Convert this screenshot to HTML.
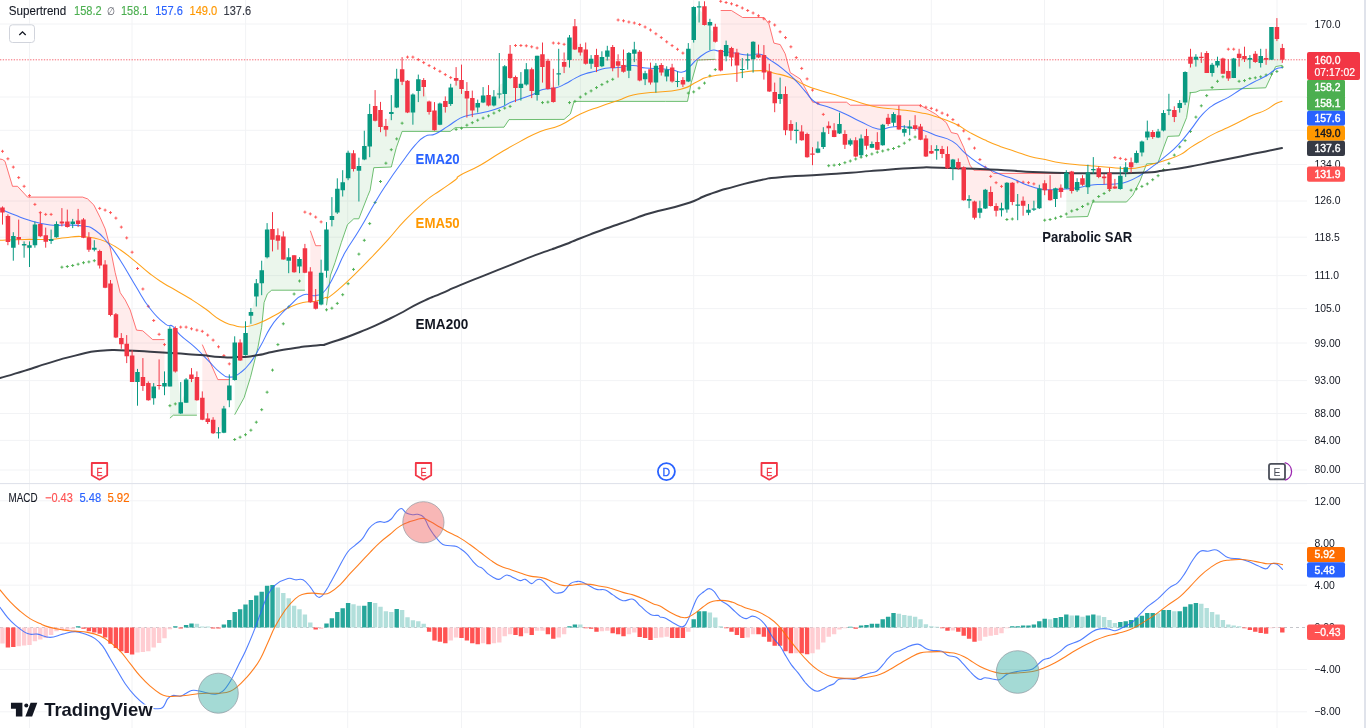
<!DOCTYPE html>
<html lang="en"><head><meta charset="utf-8"><title>Chart</title>
<style>html,body{margin:0;padding:0;background:#fff}body{width:1366px;height:728px;overflow:hidden;position:relative;font-family:"Liberation Sans",sans-serif}</style></head>
<body>
<svg width="1366" height="728" viewBox="0 0 1366 728" style="position:absolute;left:0;top:0;font-family:'Liberation Sans',sans-serif">
<defs><clipPath id="cm"><rect x="0" y="0" width="1307" height="483"/></clipPath><clipPath id="cd"><rect x="0" y="484" width="1307" height="244"/></clipPath></defs>
<path d="M29.5 0V728M132 0V728M245.6 0V728M347.7 0V728M461.5 0V728M580.4 0V728M693.7 0V728M812.5 0V728M931.3 0V728M1044.5 0V728M1163.5 0V728M1277 0V728M0 24H1307M0 97H1307M0 130.3H1307M0 164.5H1307M0 201H1307M0 237.2H1307M0 275.6H1307M0 308.6H1307M0 343H1307M0 380.6H1307M0 413.5H1307M0 440.4H1307M0 470H1307M0 500.8H1307M0 543.1H1307M0 585.2H1307M0 669.5H1307M0 711.8H1307" stroke="#f2f3f5" stroke-width="1" fill="none"/>
<path d="M0 627.5H1307" stroke="#9598a1" stroke-width="0.8" stroke-dasharray="3 3" opacity="0.7"/>
<g clip-path="url(#cm)">
<polygon points="-3,158.5 2.5,159.5 5,161.3 12.5,186.3 17.5,186.3 27.5,197.1 82.6,197.1 87.6,198.9 93.9,205.1 100.2,217.6 105.2,228.9 110.2,247.7 115.2,272.7 120.2,292.7 125.2,300 130.2,310 136.5,330.1 142.7,330.8 152.7,339.6 164.5,339.6 164.5,384 159.1,380.1 153.7,393.1 148.3,391.3 142.9,377.9 137.5,382.1 132.1,367.4 126.7,349.6 121.3,341.1 115.9,325.7 110.5,298.7 105.1,275.2 99.7,258.6 94.3,247.2 88.9,242.7 83.5,228.3 78.1,220.1 72.7,223.1 67.3,221.5 61.9,219.9 56.5,230 51.1,238.4 45.7,238 40.3,227.5 34.9,234.8 29.5,250.3 24.1,247.1 18.7,235.2 13.3,244.1 7.9,229.3 2.5,212.8 -3,210.8" fill="rgba(255,82,82,0.11)"/><polygon points="169.9,418.2 173.3,415.2 196.9,415.2 196.9,387.3 191.5,375.9 186.1,390.8 180.7,402.9 175.3,349.6 169.9,357" fill="rgba(76,175,80,0.11)"/><polygon points="202.3,344.6 217.8,379.6 229.3,379.6 229.3,391.8 223.9,420.1 218.5,432.8 213.1,426 207.7,419.4 202.3,407.2" fill="rgba(255,82,82,0.11)"/><polygon points="234.7,414.7 244.1,397.7 250.4,377.6 257.9,347.6 261.6,327.6 264.1,302.5 267.4,293.8 271.7,290.2 304.9,290.2 304.9,259.5 299.5,264 294.1,263.8 288.7,259.8 283.3,246.7 277.9,238.5 272.5,233 267.1,242 261.7,277.3 256.3,291.3 250.9,314.9 245.5,341.3 240.1,350.8 234.7,359.9" fill="rgba(76,175,80,0.11)"/><polygon points="310.3,230.7 315.7,245.7 321.1,245.7 321.1,285.5 315.7,302.2 310.3,285.9" fill="rgba(255,82,82,0.11)"/><polygon points="326.5,305.3 330.5,275.2 335,262.6 341.3,242.6 347.5,224.6 353.8,218.8 358.8,218.8 367.6,196.3 370.1,190.3 373.8,167.7 391.3,167 396.3,147.7 402.1,131.4 450.2,131.4 455.2,127.7 504,127.2 509,119.6 564.1,119.4 570.4,113.9 574.1,101.4 665.5,101.4 687.5,101.4 691.3,82.6 697.6,60.1 715.3,59.3 715.3,33.7 709.9,29.1 704.5,14.5 699.1,9.4 693.7,24 688.3,63.8 682.9,82.2 677.5,80.4 672.1,73.9 666.7,73.4 661.3,69.1 655.9,76 650.5,74.8 645.1,77.1 639.7,65.9 634.3,51.8 628.9,63.5 623.5,64.8 618.1,64.8 612.7,57.9 607.3,53.4 601.9,60.4 596.5,60.7 591.1,61.6 585.7,55.1 580.3,49.7 574.9,36.2 569.5,50 564.1,63.6 558.7,70.6 553.3,90.3 547.9,74.5 542.5,61.6 537.1,76.8 531.7,81.5 526.3,75.6 520.9,86.2 515.5,85.7 510.1,63.9 504.7,82.6 499.3,84.8 493.9,99.6 488.5,98.1 483.1,97.1 477.7,105.8 472.3,104.1 466.9,97.2 461.5,81.8 456.1,77.9 450.7,95.3 445.3,104.2 439.9,114 434.5,118.4 429.1,107.2 423.7,85.3 418.3,86.7 412.9,106.3 407.5,96.7 402.1,73.3 396.7,90.9 391.3,110.3 385.9,127.7 380.5,117.8 375.1,109.5 369.7,130.4 364.3,149.1 358.9,174 353.5,161 348.1,165.5 342.7,184.8 337.3,198.4 331.9,214.9 326.5,250" fill="rgba(76,175,80,0.11)"/><polygon points="720.7,10.5 731.4,10.5 742.6,17.5 763.9,17.5 768.9,23.8 773.9,43.1 780.2,44.6 785.2,53.8 790.2,72.6 800.2,78.9 812.7,102.2 846.5,102.2 850.3,105.2 920.4,105.2 925.4,108.2 935.4,113.9 946.3,122.6 951.3,132.6 957.5,133.9 963.8,147.6 970,165.2 973.8,170.2 990.1,170.2 993.8,173.4 1060.9,173.4 1060.9,190.4 1055.5,195.5 1050.1,191.4 1044.7,187.2 1039.3,197.6 1033.9,207.5 1028.5,210.4 1023.1,204.7 1017.7,206.1 1012.3,193 1006.9,196.8 1001.5,209.4 996.1,209.1 990.7,197.7 985.3,199 979.9,210 974.5,209.8 969.1,200.8 963.7,183.6 958.3,164.5 952.9,166.7 947.5,159.3 942.1,151.7 936.7,151.2 931.3,150.9 925.9,146.8 920.5,132.6 915.1,125 909.7,127.6 904.3,130.8 898.9,120 893.5,118.8 888.1,120.4 882.7,134.9 877.3,143.5 871.9,145.3 866.5,140 861.1,146.3 855.7,147.8 850.3,142.3 844.9,139.5 839.5,126 834.1,131.9 828.7,127.3 823.3,138.8 817.9,149 812.5,155.2 807.1,145.4 801.7,134.4 796.3,131.6 790.9,128.8 785.5,111.4 780.1,93.6 774.7,97.5 769.3,79.6 763.9,63.1 758.5,53.7 753.1,53.8 747.7,60.7 742.3,68.8 736.9,62.2 731.5,54.7 726.1,50.8 720.7,60.4" fill="rgba(255,82,82,0.11)"/><polygon points="1066.3,217.2 1087.7,216.5 1092.7,202 1126.5,202 1132.8,195.2 1140.3,180.2 1146.6,163.9 1157.8,163.2 1167.8,136.4 1179.1,135.9 1186.6,117.6 1190.4,92.5 1189.7,92.8 1196,92.1 1200.3,90.3 1265.7,87.8 1275.6,66.6 1282.3,65.4 1282.3,53.6 1276.9,31.3 1271.5,43.4 1266.1,57.8 1260.7,58.8 1255.3,57.4 1249.9,60.3 1244.5,56 1239.1,56.8 1233.7,68.2 1228.3,72.4 1222.9,65.9 1217.5,62.7 1212.1,69.3 1206.7,62.4 1201.3,57.4 1195.9,59.3 1190.5,59.2 1185.1,87.7 1179.7,105.9 1174.3,113.9 1168.9,107.3 1163.5,121.3 1158.1,134 1152.7,134.4 1147.3,132.4 1141.9,147.8 1136.5,157.4 1131.1,164.9 1125.7,169.5 1120.3,180.2 1114.9,185.7 1109.5,180 1104.1,178.2 1098.7,172.4 1093.3,167.5 1087.9,179.5 1082.5,181 1077.1,185.6 1071.7,181.7 1066.3,180.1" fill="rgba(76,175,80,0.11)"/>
<polyline points="-3,158.5 2.5,159.5 5,161.3 12.5,186.3 17.5,186.3 27.5,197.1 82.6,197.1 87.6,198.9 93.9,205.1 100.2,217.6 105.2,228.9 110.2,247.7 115.2,272.7 120.2,292.7 125.2,300 130.2,310 136.5,330.1 142.7,330.8 152.7,339.6 164.5,339.6" fill="none" stroke="#ff5252" stroke-width="1" stroke-opacity="0.8" stroke-linejoin="round"/>
<polyline points="169.9,418.2 173.3,415.2 196.9,415.2" fill="none" stroke="#4caf50" stroke-width="1" stroke-opacity="0.8" stroke-linejoin="round"/>
<polyline points="202.3,344.6 217.8,379.6 229.3,379.6" fill="none" stroke="#ff5252" stroke-width="1" stroke-opacity="0.8" stroke-linejoin="round"/>
<polyline points="234.7,414.7 244.1,397.7 250.4,377.6 257.9,347.6 261.6,327.6 264.1,302.5 267.4,293.8 271.7,290.2 304.9,290.2" fill="none" stroke="#4caf50" stroke-width="1" stroke-opacity="0.8" stroke-linejoin="round"/>
<polyline points="310.3,230.7 315.7,245.7 321.1,245.7" fill="none" stroke="#ff5252" stroke-width="1" stroke-opacity="0.8" stroke-linejoin="round"/>
<polyline points="326.5,305.3 330.5,275.2 335,262.6 341.3,242.6 347.5,224.6 353.8,218.8 358.8,218.8 367.6,196.3 370.1,190.3 373.8,167.7 391.3,167 396.3,147.7 402.1,131.4 450.2,131.4 455.2,127.7 504,127.2 509,119.6 564.1,119.4 570.4,113.9 574.1,101.4 665.5,101.4 687.5,101.4 691.3,82.6 697.6,60.1 715.3,59.3" fill="none" stroke="#4caf50" stroke-width="1" stroke-opacity="0.8" stroke-linejoin="round"/>
<polyline points="720.7,10.5 731.4,10.5 742.6,17.5 763.9,17.5 768.9,23.8 773.9,43.1 780.2,44.6 785.2,53.8 790.2,72.6 800.2,78.9 812.7,102.2 846.5,102.2 850.3,105.2 920.4,105.2 925.4,108.2 935.4,113.9 946.3,122.6 951.3,132.6 957.5,133.9 963.8,147.6 970,165.2 973.8,170.2 990.1,170.2 993.8,173.4 1060.9,173.4" fill="none" stroke="#ff5252" stroke-width="1" stroke-opacity="0.8" stroke-linejoin="round"/>
<polyline points="1066.3,217.2 1087.7,216.5 1092.7,202 1126.5,202 1132.8,195.2 1140.3,180.2 1146.6,163.9 1157.8,163.2 1167.8,136.4 1179.1,135.9 1186.6,117.6 1190.4,92.5 1189.7,92.8 1196,92.1 1200.3,90.3 1265.7,87.8 1275.6,66.6 1282.3,65.4" fill="none" stroke="#4caf50" stroke-width="1" stroke-opacity="0.8" stroke-linejoin="round"/>
<path d="M1 151.3h3M2.5 149.8v3M6.4 158.8h3M7.9 157.3v3M11.8 167.1h3M13.3 165.6v3M17.2 177.6h3M18.7 176.1v3M22.6 186.3h3M24.1 184.8v3M28 195.6h3M29.5 194.1v3M33.4 204.4h3M34.9 202.9v3M38.8 212.6h3M40.3 211.1v3M44.2 214.4h3M45.7 212.9v3M49.6 214.4h3M51.1 212.9v3" stroke="#ff5252" stroke-width="0.95" fill="none"/>
<path d="M60.4 267.2h3M61.9 265.7v3M65.8 266.5h3M67.3 265v3M71.2 265.5h3M72.7 264v3M76.6 264.2h3M78.1 262.7v3M82 262.7h3M83.5 261.2v3M87.4 261.9h3M88.9 260.4v3M92.8 260.7h3M94.3 259.2v3" stroke="#4caf50" stroke-width="0.95" fill="none"/>
<path d="M98.2 208.4h3M99.7 206.9v3M103.6 210.1h3M105.1 208.6v3M109 212.6h3M110.5 211.1v3M114.4 218.1h3M115.9 216.6v3M119.8 227.1h3M121.3 225.6v3M125.2 237.9h3M126.7 236.4v3M130.6 252.2h3M132.1 250.7v3M136 268.5h3M137.5 267v3M141.4 289h3M142.9 287.5v3M146.8 306.3h3M148.3 304.8v3M152.2 320.5h3M153.7 319v3M157.6 334.3h3M159.1 332.8v3M163 344.6h3M164.5 343.1v3" stroke="#ff5252" stroke-width="0.95" fill="none"/>
<path d="M168.4 405.7h3M169.9 404.2v3M173.8 403.9h3M175.3 402.4v3" stroke="#4caf50" stroke-width="0.95" fill="none"/>
<path d="M179.2 327.1h3M180.7 325.6v3M184.6 327.1h3M186.1 325.6v3M190 328.8h3M191.5 327.3v3M195.4 330.1h3M196.9 328.6v3M200.8 331.3h3M202.3 329.8v3M206.2 335.1h3M207.7 333.6v3M211.6 340.1h3M213.1 338.6v3M217 346.8h3M218.5 345.3v3M222.4 355.6h3M223.9 354.1v3M227.8 363.9h3M229.3 362.4v3" stroke="#ff5252" stroke-width="0.95" fill="none"/>
<path d="M233.2 439.5h3M234.7 438v3M238.6 437.2h3M240.1 435.7v3M244 434.7h3M245.5 433.2v3M249.4 430.2h3M250.9 428.7v3M254.8 422.2h3M256.3 420.7v3M260.2 409.7h3M261.7 408.2v3M265.6 392.2h3M267.1 390.7v3M271 370.1h3M272.5 368.6v3M276.4 344.6h3M277.9 343.1v3M281.8 323.8h3M283.3 322.3v3M287.2 307h3M288.7 305.5v3M292.6 294h3M294.1 292.5v3M298 281h3M299.5 279.5v3" stroke="#4caf50" stroke-width="0.95" fill="none"/>
<path d="M303.4 212.1h3M304.9 210.6v3M308.8 213.9h3M310.3 212.4v3M314.2 217.1h3M315.7 215.6v3M319.6 221.9h3M321.1 220.4v3" stroke="#ff5252" stroke-width="0.95" fill="none"/>
<path d="M325 309.8h3M326.5 308.3v3M330.4 308.2h3M331.9 306.7v3M335.8 303.4h3M337.3 301.9v3M341.2 294.7h3M342.7 293.2v3M346.6 283.7h3M348.1 282.2v3M352 269.4h3M353.5 267.9v3M357.4 254.1h3M358.9 252.6v3M362.8 240.3h3M364.3 238.8v3M368.2 223.6h3M369.7 222.1v3M373.6 202.5h3M375.1 201v3M379 181.5h3M380.5 180v3M384.4 163.2h3M385.9 161.7v3M389.8 149.7h3M391.3 148.2v3M395.2 138.9h3M396.7 137.4v3M400.6 123.2h3M402.1 121.7v3" stroke="#4caf50" stroke-width="0.95" fill="none"/>
<path d="M406 57.1h3M407.5 55.6v3M411.4 57.1h3M412.9 55.6v3M416.8 59.6h3M418.3 58.1v3M422.2 62.6h3M423.7 61.1v3M427.6 65.6h3M429.1 64.1v3M433 68.3h3M434.5 66.8v3M438.4 71.3h3M439.9 69.8v3M443.8 74.6h3M445.3 73.1v3M449.2 77.6h3M450.7 76.1v3" stroke="#ff5252" stroke-width="0.95" fill="none"/>
<path d="M454.6 129.4h3M456.1 127.9v3M460 128.2h3M461.5 126.7v3M465.4 125.2h3M466.9 123.7v3M470.8 122.7h3M472.3 121.2v3M476.2 120.2h3M477.7 118.7v3M481.6 118.1h3M483.1 116.6v3M487 115.9h3M488.5 114.4v3M492.4 113.1h3M493.9 111.6v3M497.8 110.6h3M499.3 109.1v3M503.2 108.1h3M504.7 106.6v3M508.6 106.4h3M510.1 104.9v3" stroke="#4caf50" stroke-width="0.95" fill="none"/>
<path d="M514 45.5h3M515.5 44v3M519.4 45.5h3M520.9 44v3M524.8 45.8h3M526.3 44.3v3M530.2 46.8h3M531.7 45.3v3M535.6 48h3M537.1 46.5v3" stroke="#ff5252" stroke-width="0.95" fill="none"/>
<path d="M541 102.6h3M542.5 101.1v3M546.4 102.1h3M547.9 100.6v3" stroke="#4caf50" stroke-width="0.95" fill="none"/>
<path d="M551.8 43h3M553.3 41.5v3M557.2 43.3h3M558.7 41.8v3M562.6 44.3h3M564.1 42.8v3" stroke="#ff5252" stroke-width="0.95" fill="none"/>
<path d="M568 102.6h3M569.5 101.1v3M573.4 101.4h3M574.9 99.9v3M578.8 97.1h3M580.3 95.6v3M584.2 93.9h3M585.7 92.4v3M589.6 90.9h3M591.1 89.4v3M595 87.6h3M596.5 86.1v3M600.4 84.6h3M601.9 83.1v3M605.8 81.8h3M607.3 80.3v3M611.2 79.3h3M612.7 77.8v3" stroke="#4caf50" stroke-width="0.95" fill="none"/>
<path d="M616.6 20h3M618.1 18.5v3M622 20.8h3M623.5 19.3v3M627.4 22h3M628.9 20.5v3M632.8 23h3M634.3 21.5v3M638.2 24.5h3M639.7 23v3M643.6 27h3M645.1 25.5v3M649 30h3M650.5 28.5v3M654.4 33.8h3M655.9 32.3v3M659.8 37.6h3M661.3 36.1v3M665.2 41.8h3M666.7 40.3v3M670.6 45.6h3M672.1 44.1v3M676 49.3h3M677.5 47.8v3M681.4 53.1h3M682.9 51.6v3" stroke="#ff5252" stroke-width="0.95" fill="none"/>
<path d="M686.8 93.1h3M688.3 91.6v3M692.2 91.9h3M693.7 90.4v3M697.6 88.1h3M699.1 86.6v3M703 83.1h3M704.5 81.6v3M708.4 75.9h3M709.9 74.4v3M713.8 69.6h3M715.3 68.1v3" stroke="#4caf50" stroke-width="0.95" fill="none"/>
<path d="M719.2 1.3h3M720.7 -0.2v3M724.6 2.5h3M726.1 1v3M730 3.8h3M731.5 2.3v3M735.4 5.5h3M736.9 4v3M740.8 8h3M742.3 6.5v3M746.2 10.5h3M747.7 9v3M751.6 13h3M753.1 11.5v3M757 15.8h3M758.5 14.3v3M762.4 18.8h3M763.9 17.3v3M767.8 21.8h3M769.3 20.3v3M773.2 25h3M774.7 23.5v3M778.6 31.8h3M780.1 30.3v3M784 37.6h3M785.5 36.1v3M789.4 46.8h3M790.9 45.3v3M794.8 57.6h3M796.3 56.1v3M800.2 68.4h3M801.7 66.9v3M805.6 78.9h3M807.1 77.4v3M811 90.1h3M812.5 88.6v3M816.4 103.4h3M817.9 101.9v3M821.8 114.4h3M823.3 112.9v3" stroke="#ff5252" stroke-width="0.95" fill="none"/>
<path d="M827.2 165.7h3M828.7 164.2v3M832.6 165.2h3M834.1 163.7v3M838 164.5h3M839.5 163v3M843.4 162.7h3M844.9 161.2v3M848.8 161h3M850.3 159.5v3M854.2 159h3M855.7 157.5v3M859.6 157.2h3M861.1 155.7v3M865 155.7h3M866.5 154.2v3M870.4 154h3M871.9 152.5v3M875.8 152.2h3M877.3 150.7v3M881.2 151h3M882.7 149.5v3M886.6 149.7h3M888.1 148.2v3M892 148.5h3M893.5 147v3M897.4 146.5h3M898.9 145v3M902.8 143.2h3M904.3 141.7v3M908.2 139.7h3M909.7 138.2v3M913.6 137h3M915.1 135.5v3" stroke="#4caf50" stroke-width="0.95" fill="none"/>
<path d="M919 105.7h3M920.5 104.2v3M924.4 107.2h3M925.9 105.7v3M929.8 108.4h3M931.3 106.9v3M935.2 110.2h3M936.7 108.7v3M940.6 113.1h3M942.1 111.6v3M946 115.1h3M947.5 113.6v3M951.4 119.6h3M952.9 118.1v3M956.8 125.1h3M958.3 123.6v3M962.2 130.9h3M963.7 129.4v3M967.6 138.9h3M969.1 137.4v3M973 148.1h3M974.5 146.6v3M978.4 159.6h3M979.9 158.1v3M983.8 167.2h3M985.3 165.7v3M989.2 176.4h3M990.7 174.9v3M994.6 182.7h3M996.1 181.2v3M1000 186.4h3M1001.5 184.9v3" stroke="#ff5252" stroke-width="0.95" fill="none"/>
<path d="M1005.4 219.5h3M1006.9 218v3M1010.8 219h3M1012.3 217.5v3" stroke="#4caf50" stroke-width="0.95" fill="none"/>
<path d="M1016.2 181.9h3M1017.7 180.4v3M1021.6 182.2h3M1023.1 180.7v3M1027 182.7h3M1028.5 181.2v3M1032.4 183.9h3M1033.9 182.4v3" stroke="#ff5252" stroke-width="0.95" fill="none"/>
<path d="M1043.2 220.2h3M1044.7 218.7v3M1048.6 219.5h3M1050.1 218v3M1054 218.2h3M1055.5 216.7v3M1059.4 216.5h3M1060.9 215v3M1064.8 214h3M1066.3 212.5v3M1070.2 211h3M1071.7 209.5v3M1075.6 209.5h3M1077.1 208v3M1081 206.5h3M1082.5 205v3M1086.4 204h3M1087.9 202.5v3M1091.8 201h3M1093.3 199.5v3M1097.2 196.5h3M1098.7 195v3M1102.6 193.5h3M1104.1 192v3M1108 190.2h3M1109.5 188.7v3" stroke="#4caf50" stroke-width="0.95" fill="none"/>
<path d="M1113.4 157.6h3M1114.9 156.1v3M1118.8 158.4h3M1120.3 156.9v3M1124.2 159.4h3M1125.7 157.9v3" stroke="#ff5252" stroke-width="0.95" fill="none"/>
<path d="M1129.6 190.2h3M1131.1 188.7v3M1135 188.9h3M1136.5 187.4v3M1140.4 186.4h3M1141.9 184.9v3M1145.8 183.9h3M1147.3 182.4v3M1151.2 179.7h3M1152.7 178.2v3M1156.6 175.7h3M1158.1 174.2v3M1162 169.7h3M1163.5 168.2v3M1167.4 163.4h3M1168.9 161.9v3M1172.8 155.1h3M1174.3 153.6v3M1178.2 146.9h3M1179.7 145.4v3M1183.6 140.6h3M1185.1 139.1v3M1189 131.4h3M1190.5 129.9v3M1194.4 117.1h3M1195.9 115.6v3M1199.8 105.8h3M1201.3 104.3v3M1205.2 95.6h3M1206.7 94.1v3M1210.6 87.5h3M1212.1 86v3M1216 81.3h3M1217.5 79.8v3M1221.4 76.8h3M1222.9 75.3v3" stroke="#4caf50" stroke-width="0.95" fill="none"/>
<path d="M1226.8 49.2h3M1228.3 47.7v3M1232.2 49.2h3M1233.7 47.7v3" stroke="#ff5252" stroke-width="0.95" fill="none"/>
<path d="M1237.6 81.3h3M1239.1 79.8v3M1243 80.6h3M1244.5 79.1v3M1248.4 78.5h3M1249.9 77v3M1253.8 77.8h3M1255.3 76.3v3M1259.2 76.8h3M1260.7 75.3v3M1264.6 75h3M1266.1 73.5v3M1270 74.1h3M1271.5 72.6v3M1275.4 71.4h3M1276.9 69.9v3M1280.8 67h3M1282.3 65.5v3" stroke="#4caf50" stroke-width="0.95" fill="none"/>
<path d="M0 240.2C6.7 240 11.7 239.6 25 239.4C38.4 239.2 39.4 239.9 50.1 239.4C60.8 238.9 57.1 238.5 65.1 237.7C73.1 236.9 72.1 236.3 80.1 236.4C88.1 236.5 87.8 236.5 95.1 238.2C102.5 239.8 101 239.6 107.7 242.7C114.3 245.7 112.8 244.7 120.2 249.7C127.5 254.7 127.2 255 135.2 261.4C143.2 267.9 142.9 268.3 150.2 274C157.6 279.6 156.1 278.5 162.7 282.7C169.4 287 167.9 285.7 175.3 290C182.6 294.3 182.3 293.8 190.3 298.8C198.3 303.8 197.3 303.1 205.3 308.8C213.3 314.5 213 315.7 220.3 320C227.7 324.4 226.2 323.2 232.8 325.1C239.5 326.9 238 327.5 245.4 326.8C252.7 326.1 252.4 325.7 260.4 322.5C268.4 319.4 268.1 318.9 275.4 315C282.8 311.2 280.6 311.4 287.9 308C295.3 304.7 295.6 304.3 303 302.5C310.3 300.7 309.5 302.6 315.5 301.3C321.5 299.9 321.6 298.8 325.5 297.5C329.4 296.2 324.1 300.7 330 296.4C335.9 292.1 337.5 290.7 347.5 281.4C357.5 272.1 356.9 272.4 367.6 261.4C378.2 250.4 377.6 251.1 387.6 240.1C397.6 229.1 395.1 230.4 405.1 220.1C415.1 209.7 415.8 209.2 425.1 201.3C434.5 193.4 432.2 196.2 440.2 190.5C448.2 184.8 449.8 184.1 455.2 180C460.5 175.9 453.5 179.2 460.2 175.2C466.9 171.3 469.5 171.2 480.2 165.2C490.9 159.2 489.6 159 500.3 152.7C510.9 146.4 509.6 147.1 520.3 141.4C531 135.8 529.6 135.8 540.3 131.4C551 127.1 549.7 129.8 560.3 125.2C571 120.5 569.7 118.9 580.4 113.9C591.1 108.9 590.4 109.9 600.4 106.4C610.4 102.8 609.3 103.6 617.9 100.6C626.6 97.6 624.3 97.2 633 95.1C641.6 93 637.9 94.1 650.5 92.6C663 91.1 667.5 92.4 680 89.4C692.6 86.4 689.5 84.8 697.6 81.4C705.6 77.9 700.1 78.5 710.1 76.4C720.1 74.2 721.8 74.9 735.1 73.4C748.5 71.8 749.5 70.6 760.2 70.6C770.8 70.6 767.2 71.5 775.2 73.4C783.2 75.2 782.2 74.5 790.2 77.6C798.2 80.8 797.2 81.7 805.2 85.1C813.2 88.6 810.9 87.6 820.2 90.6C829.6 93.6 829.6 93.2 840.3 96.4C851 99.6 850.3 99.8 860.3 102.7C870.3 105.5 867.8 105.4 877.8 107.2C887.8 109 886.5 107.9 897.9 109.4C909.2 110.9 910.4 110.8 920.4 112.7C930.4 114.5 926.2 113.4 935.4 116.4C944.6 119.4 945.8 119.5 955 123.8C964.3 128.2 962 128.3 970 132.6C978.1 136.9 977.1 136.4 985.1 140.1C993.1 143.8 992.1 143.4 1000.1 146.4C1008.1 149.4 1007.1 148.7 1015.1 151.4C1023.1 154.1 1022.1 154.2 1030.1 156.4C1038.1 158.6 1037.1 158 1045.2 159.6C1053.2 161.3 1052.2 161.4 1060.2 162.7C1068.2 163.9 1067.2 163.6 1075.2 164.4C1083.2 165.2 1082.2 165 1090.2 165.7C1098.2 166.3 1097.2 166.2 1105.2 166.9C1113.3 167.6 1112.3 167.8 1120.3 168.2C1128.3 168.5 1127.3 169.1 1135.3 168.2C1143.3 167.2 1142.3 166.8 1150.3 164.7C1158.3 162.5 1157.3 162.8 1165.3 160.2C1173.4 157.5 1173.7 158 1180.4 154.6C1187 151.3 1184.4 151.5 1190.4 147.6C1196.4 143.8 1196.2 144 1202.9 140.1C1209.6 136.2 1208.7 136.4 1215.4 133.1C1222.1 129.8 1221.3 130.7 1227.9 127.6C1234.6 124.5 1233.8 124.7 1240.5 121.3C1247.1 118 1246.3 118.1 1253 115.1C1259.6 112.1 1259.5 113.1 1265.5 110.1C1271.5 107.1 1271.1 106.2 1275.5 103.8C1279.9 101.5 1280.3 102 1282 101.3" fill="none" stroke="#ff9800" stroke-width="1.05" stroke-opacity="0.9" stroke-linejoin="round" stroke-linecap="round"/>
<path d="M0 208.9C4 210.5 7 212 15 215.1C23 218.3 20.7 218 30 220.6C39.4 223.3 40.7 223.9 50.1 225.1C59.4 226.3 56.4 224.9 65.1 225.1C73.8 225.3 74.6 224.6 82.6 225.9C90.6 227.2 88.5 225.7 95.1 230.2C101.8 234.6 101 234.7 107.7 242.7C114.3 250.7 112.8 248.8 120.2 260.2C127.5 271.5 127.2 272.3 135.2 285.2C143.2 298.2 142.2 298.5 150.2 308.8C158.2 319.1 159.2 319.1 165.2 323.8C171.3 328.5 168.8 323.3 172.8 326.3C176.8 329.3 174.3 329.4 180.3 335.1C186.3 340.7 187.9 340.9 195.3 347.6C202.6 354.3 201.1 353.4 207.8 360.1C214.5 366.8 214.3 368.1 220.3 372.6C226.3 377.2 225 377.1 230.3 377.1C235.7 377.1 235 376.5 240.4 372.6C245.7 368.8 245 369.6 250.4 362.6C255.7 355.6 255 355.7 260.4 346.3C265.7 337 265.1 335.9 270.4 327.6C275.7 319.2 275.1 321 280.4 315C285.8 309 284.4 310.4 290.4 305C296.4 299.7 296.3 297.5 303 295C309.6 292.5 309.5 296.8 315.5 295.5C321.5 294.2 320.1 296.1 325.5 290C330.8 283.9 330.3 282.7 335.5 272.7C340.7 262.7 338.5 264.3 345 252.6C351.6 240.9 352 242.2 360 228.8C368.1 215.5 367.7 214.8 375.1 202.5C382.4 190.2 380.2 193.7 387.6 182.7C394.9 171.8 395.3 171.5 402.6 161.5C410 151.4 409.1 151.9 415.1 145.2C421.1 138.5 419.8 139.4 425.1 136.4C430.5 133.4 429.1 136.6 435.2 133.9C441.2 131.3 441 130.6 447.7 126.4C454.4 122.2 454.2 121.2 460.2 118.1C466.2 115.1 463.5 116.7 470.2 115.1C476.9 113.5 477.2 114.1 485.2 112.1C493.2 110.1 493.6 110.2 500.3 107.6C506.9 105.1 504.9 105 510.3 102.6C515.6 100.3 514.3 101 520.3 98.9C526.3 96.7 526.8 97.1 532.8 94.6C538.8 92.1 536.8 91.3 542.8 89.6C548.8 87.9 549.3 89.6 555.3 88.1C561.3 86.6 560 86.5 565.4 83.8C570.7 81.2 570 80.8 575.4 78.1C580.7 75.4 580 75.6 585.4 73.8C590.7 72 590.1 72.8 595.4 71.3C600.7 69.9 599.4 69.3 605.4 68.3C611.4 67.3 610.6 68.3 617.9 67.6C625.3 66.8 625.6 65.4 633 65.6C640.3 65.7 638.1 67.2 645.5 68.1C652.8 68.9 653.3 68.3 660.5 68.8C667.7 69.4 666.6 69.2 672.5 70.1C678.4 71 677.9 73.1 682.5 72.1C687.2 71.1 686 69.9 690 66.3C694.1 62.8 692.2 63 697.6 58.8C702.9 54.7 704.1 52.8 710.1 50.8C716.1 48.8 713.4 50.7 720.1 51.3C726.8 51.9 727.8 52.1 735.1 53.1C742.5 54.1 741 54.7 747.6 55.1C754.3 55.4 754.1 53 760.2 54.3C766.2 55.7 764.2 56.2 770.2 60.1C776.2 64 776 63.5 782.7 68.9C789.4 74.2 789.2 74.1 795.2 80.1C801.2 86.1 799.9 85.5 805.2 91.4C810.6 97.3 808.6 97.8 815.2 102.2C821.9 106.5 822.2 104.5 830.3 107.7C838.3 110.8 837.3 110.2 845.3 113.9C853.3 117.6 851.6 117.4 860.3 121.4C869 125.4 869.8 127.4 877.8 128.9C885.8 130.5 884.3 127.9 890.3 127.2C896.4 126.5 895 126.3 900.4 126.4C905.7 126.6 904.4 126.7 910.4 127.7C916.4 128.7 916.2 128.2 922.9 130.2C929.6 132.2 927.5 132.2 935.4 135.2C943.3 138.2 944.6 136.6 952.5 141.4C960.4 146.2 958.4 147.5 965 153.1C971.7 158.8 970.9 158.2 977.6 162.7C984.2 167.1 983.4 166.3 990.1 169.7C996.8 173 995.9 172.5 1002.6 175.2C1009.3 177.8 1008.4 177 1015.1 179.7C1021.8 182.4 1021 182.7 1027.6 185.2C1034.3 187.7 1033.5 187.7 1040.2 188.9C1046.8 190.1 1046 189.7 1052.7 189.7C1059.3 189.7 1058.5 189.5 1065.2 188.9C1071.9 188.4 1071 188.7 1077.7 187.7C1084.4 186.7 1083.5 186.1 1090.2 185.2C1096.9 184.3 1096.1 184.8 1102.7 184.4C1109.4 184.1 1108.6 184.7 1115.3 183.9C1121.9 183.1 1121.1 183.8 1127.8 181.4C1134.5 179.1 1133.6 179.2 1140.3 175.2C1147 171.2 1146.1 171.4 1152.8 166.4C1159.5 161.4 1158.7 162.1 1165.3 156.4C1172 150.7 1171.2 152.1 1177.9 145.1C1184.5 138.1 1183.7 138.5 1190.4 130.1C1197.1 121.8 1196.2 120.8 1202.9 113.8C1209.6 106.8 1208.7 108.2 1215.4 103.8C1222.1 99.5 1221.3 101.4 1227.9 97.6C1234.6 93.8 1233.8 93.6 1240.5 89.5C1247.1 85.5 1246.3 86.1 1253 82.5C1259.6 79 1260.1 79.4 1265.5 76.3C1270.9 73.2 1270.1 73.1 1273.1 71C1276.2 68.9 1274.4 69.4 1276.9 68.5C1279.3 67.6 1280.9 67.8 1282.3 67.5" fill="none" stroke="#2962ff" stroke-width="1.05" stroke-opacity="0.85" stroke-linejoin="round" stroke-linecap="round"/>
<path d="M0 378.1C8.3 375.6 8.3 375.8 25 370.6C41.7 365.4 33.4 367.6 50.1 362.6C66.8 357.6 58.4 359.5 75.1 355.6C91.8 351.7 83.5 352.5 100.2 350.8C116.8 349.2 108.5 350.3 125.2 350.6C141.9 350.9 133.5 350.9 150.2 351.8C166.9 352.8 158.6 352.3 175.3 353.3C192 354.4 185.3 353.8 200.3 355.1C215.3 356.3 207.8 356.4 220.3 357.1C232.8 357.8 226.2 357.6 237.9 357.1C249.5 356.6 242.9 357.5 255.4 355.6C267.9 353.7 260.4 354.2 275.4 351.3C290.4 348.5 285.4 349.2 300.5 347.1C315.5 345 310.6 346.5 320.5 345.1C330.3 343.6 316.8 347.1 330 342.7C343.2 338.4 340 340.1 360 332C380.1 323.9 370.1 328.2 390.1 318.5C410.1 308.7 403.4 310.9 420.1 302.7C436.8 294.5 426.8 299.8 440.2 293.9C453.5 288.1 445.2 291.4 460.2 285.2C475.2 278.9 468.5 281.8 485.2 275.1C501.9 268.5 491.9 272.4 510.3 265.1C528.6 257.9 523.6 259.6 540.3 253.4C557 247.1 547 251.4 560.3 246.3C573.7 241.3 565.4 244.2 580.4 238.3C595.4 232.5 588.7 234.9 605.4 228.8C622.1 222.7 615.6 225.3 630.5 220.1C645.3 214.9 631.8 218.6 650.1 213.2C668.3 207.9 665.1 210.4 685.1 204C705.2 197.5 693.5 199.8 710.2 194C726.9 188.1 718.5 191 735.2 186.4C751.9 181.8 745.2 183.3 760.2 180.2C775.3 177.1 762.7 178.8 780.3 177.2C797.8 175.5 789.5 176.7 812.8 175.2C836.2 173.7 825.3 174.5 850.4 172.7C875.4 170.8 865.4 171.3 887.9 169.7C910.5 168 900.6 168.3 918 167.7C935.3 167 916 167.1 940 167.7C964 168.2 956.7 167.9 990.1 169.4C1023.5 170.9 1006.8 170.9 1040.2 172.2C1073.5 173.4 1056.8 173 1090.2 173.2C1123.6 173.3 1115.3 173.7 1140.3 172.7C1165.3 171.7 1148.6 172.3 1165.3 170.2C1182 168.1 1173.7 169.3 1190.4 166.4C1207.1 163.5 1198.7 164.7 1215.4 161.4C1232.1 158.1 1223.8 159.7 1240.5 156.4C1257.1 153.1 1251.6 154.1 1265.5 151.4C1279.3 148.6 1276.5 149.2 1282 148.1" fill="none" stroke="#2a2e39" stroke-width="2.0" stroke-opacity="0.93" stroke-linejoin="round" stroke-linecap="round"/>
<path d="M0 59.8H1307" stroke="#f23645" stroke-width="1" stroke-dasharray="1.35 1.39" opacity="0.75"/>
<path d="M13.3 232.2V260.7M24.1 241.4V257.7M29.5 241.4V267M34.9 221.6V247.7M51.1 229.6V243.9M56.5 221.4V237.7M72.7 218.9V228.1M94.3 240.2V251.4M137.5 368.9V405.7M153.7 383.1V404.7M164.5 371.4V395.2M169.9 326.3V386.4M180.7 382.1V413.9M186.1 378.1V402.7M218.5 427.2V438.5M223.9 405.9V433.2M229.3 374.4V407.2M234.7 336.3V380.6M245.5 321.3V355.6M250.9 308V323.8M256.3 279V306.5M261.7 260.7V295.2M267.1 223.1V258.4M288.7 248.2V273.2M299.5 257.2V273.2M321.1 259.7V305.3M326.5 222.1V277.7M331.9 197.1V226.4M337.3 178.3V213.9M342.7 170.2V196.5M348.1 150.7V180.2M358.9 157.7V201.5M364.3 130.7V160.2M369.7 103.9V157.2M391.3 95.1V120.2M396.7 68.8V108.1M412.9 93.4V124.7M418.3 74.6V102.1M439.9 102.6V125.2M450.7 83.8V105.9M477.7 99.6V112.6M483.1 87.1V103.1M493.9 90.1V106.4M499.3 53V98.4M504.7 65.1V105.1M520.9 72.1V100.6M526.3 63.1V85.6M537.1 55.8V100.6M558.7 48.8V85.6M569.5 35V67.6M591.1 55.1V68.8M601.9 51.3V67.1M607.3 45.8V60.6M628.9 52V78.1M634.3 41.8V62.1M645.1 70.8V85.1M655.9 63.1V92.6M666.7 66.3V81.4M677.5 71.4V87.1M688.3 43.1V82.1M693.7 6.3V42.6M699.1 1.3V22.5M709.9 18.8V50.1M726.1 40.6V61.3M742.3 58.1V78.1M747.7 53.3V69.6M753.1 41.3V72.6M780.1 77.6V103.9M796.3 122.2V143.5M817.9 141.5V153.2M823.3 127.2V149M839.5 112.7V134M850.3 138.5V146M861.1 134.5V157.2M871.9 141.5V148.2M882.7 123.9V145.7M893.5 112.2V126.4M904.3 125.2V136.5M909.7 120.2V135.2M936.7 145.2V159.7M952.9 158.9V180.2M969.1 195.2V208.2M979.9 200.7V218.2M985.3 188.9V209M1001.5 202.7V216.5M1006.9 182.2V212.7M1017.7 194V220.2M1028.5 204V215.2M1033.9 200.7V211M1039.3 184.7V209M1055.5 187.7V207M1066.3 170.2V188.9M1077.1 178.2V191.9M1087.9 164.7V194M1093.3 157.1V173.9M1120.3 166.4V189.7M1125.7 162.2V176.9M1136.5 150.6V163.2M1141.9 140.6V156.4M1147.3 120.6V140.1M1158.1 128.9V138.1M1163.5 110.1V131.4M1168.9 93.8V115.1M1179.7 100.1V112.6M1185.1 71.3V105.1M1195.9 54.2V66.6M1212.1 62.9V76.6M1217.5 56.7V67.5M1233.7 57.9V78.1M1249.9 55.1V68.5M1260.7 48.8V67.5M1271.5 27.1V59.8" stroke="#089981" stroke-width="1" fill="none"/>
<path d="M2.5 206.4V224.6M7.9 214.4V245.2M18.7 219.6V244.7M40.3 212.6V237.2M45.7 227.6V247.7M61.9 208.1V226.4M67.3 209.6V227.6M78.1 208.9V227.1M83.5 218.1V238.2M88.9 232.2V251.9M99.7 249.7V268.5M105.1 260.2V288.2M110.5 280V316.3M115.9 313V338.1M121.3 333.1V348.8M126.7 335.1V363.1M132.1 350.1V381.9M142.9 358.1V390.9M148.3 381.4V400.7M159.1 359.4V389.6M175.3 326.3V372.6M191.5 368.1V382.1M196.9 371.4V400.7M202.3 391.4V420.2M207.7 413.2V424M213.1 417.2V434M240.1 339.3V360.9M272.5 212.1V251.4M277.9 228.4V249.7M283.3 231.4V259.7M294.1 255.2V272.7M304.9 243.9V273.2M310.3 267.2V302.8M315.7 289V309.5M353.5 150.2V171.5M375.1 90.1V121.4M380.5 101.9V132.2M385.9 118.9V136.4M402.1 57.1V85.1M407.5 80.1V113.1M423.7 78.1V96.4M429.1 100.6V114.6M434.5 102.1V130.7M445.3 96.4V112.6M456.1 67.1V85.6M461.5 64.6V93.9M466.9 82.1V117.6M472.3 90.6V117.1M488.5 85.1V106.4M510.1 45V78.8M515.5 75.6V102.1M531.7 67.6V98.1M542.5 42.5V82.6M547.9 58.8V89.6M553.3 68.8V102.6M564.1 52.5V73.1M574.9 19V50M580.3 43.8V55.6M585.7 42.5V64.6M596.5 48.8V72.1M612.7 45V71.3M618.1 54.3V77.6M623.5 49.5V72.6M639.7 50V81.3M650.5 62.6V84.6M661.3 63.1V75.6M672.1 63.8V82.6M682.9 77.1V87.1M704.5 1.3V25.5M715.3 23.8V42.6M720.7 49.6V71.4M731.5 46.8V66.3M736.9 48.8V81.9M758.5 44.6V58.1M763.9 45.1V79.6M769.3 63.8V91.9M774.7 82.6V112.2M785.5 86.4V135.2M790.9 120.2V140.2M801.7 125.2V140.7M807.1 132.7V157.7M812.5 147.2V165.2M828.7 121.4V134M834.1 123.2V137.2M844.9 130.2V149M855.7 137.2V157.2M866.5 128.9V149.5M877.3 132.2V150.2M888.1 113.9V125.9M898.9 105.7V129.7M915.1 115.2V130.7M920.5 123.9V140.2M925.9 135.2V157M931.3 145.2V154M942.1 145.9V158.1M947.5 146.4V168.9M958.3 158.4V169.7M963.7 166.4V200.7M974.5 200.7V219.5M990.7 186.4V206.5M996.1 203.2V216.5M1012.3 182.2V205.2M1023.1 196.5V215.7M1044.7 180.2V195.2M1050.1 175.2V200.7M1060.9 184.4V197.7M1071.7 170.9V193.5M1082.5 175.2V185.9M1098.7 166.4V178.2M1104.1 173.9V184.4M1109.5 167.7V190.7M1114.9 178.9V188.9M1131.1 157.6V172.7M1152.7 130.1V138.9M1174.3 106.3V122.1M1190.5 48.8V67.5M1201.3 52.3V62.9M1206.7 51.1V72.9M1222.9 57.7V73.7M1228.3 59.2V80.9M1239.1 48.8V66.6M1244.5 46.7V62M1255.3 51.1V62.9M1266.1 48.8V64.8M1276.9 18.1V41.1M1282.3 43.9V62.9" stroke="#f23645" stroke-width="1" fill="none"/>
<path d="M11.1 235.9h4.5V247.7h-4.5ZM21.9 243.9h4.5V245.4h-4.5ZM27.2 245.2h4.5V247.7h-4.5ZM32.7 224.6h4.5V245.2h-4.5ZM48.9 238.9h4.5V240.9h-4.5ZM54.2 223.9h4.5V237.2h-4.5ZM70.5 221.4h4.5V224.1h-4.5ZM92.1 247.7h4.5V249.7h-4.5ZM135.2 372.1h4.5V381.9h-4.5ZM151.5 386.4h4.5V398.2h-4.5ZM162.2 383.1h4.5V386.4h-4.5ZM167.7 328.8h4.5V386.4h-4.5ZM178.5 402.2h4.5V413.4h-4.5ZM183.9 379.6h4.5V402.7h-4.5ZM216.2 432.2h4.5V433.2h-4.5ZM221.7 408.4h4.5V432.7h-4.5ZM227.1 385.6h4.5V400.2h-4.5ZM232.5 342.6h4.5V380.1h-4.5ZM243.3 333.1h4.5V355.1h-4.5ZM248.7 312h4.5V315.8h-4.5ZM254.1 283.2h4.5V296.5h-4.5ZM259.5 270.2h4.5V283.2h-4.5ZM264.9 229.4h4.5V257.2h-4.5ZM286.5 257.2h4.5V260.7h-4.5ZM297.2 258.9h4.5V266.5h-4.5ZM318.9 272.7h4.5V304.5h-4.5ZM324.2 229.4h4.5V270.7h-4.5ZM329.7 215.9h4.5V220.1h-4.5ZM335.1 188.8h4.5V212.6h-4.5ZM340.5 182.2h4.5V190.3h-4.5ZM345.9 152.7h4.5V178.2h-4.5ZM356.7 166h4.5V170.7h-4.5ZM362.1 145.9h4.5V159.5h-4.5ZM367.5 114.1h4.5V146.4h-4.5ZM389.1 111.9h4.5V113.9h-4.5ZM394.5 78.8h4.5V107.6h-4.5ZM410.7 94.4h4.5V112.6h-4.5ZM416.1 79.3h4.5V90.9h-4.5ZM437.7 103.4h4.5V124.7h-4.5ZM448.5 87.6h4.5V103.9h-4.5ZM475.5 103.1h4.5V107.6h-4.5ZM480.9 95.6h4.5V102.6h-4.5ZM491.7 96.4h4.5V105.6h-4.5ZM497.1 93.4h4.5V94.4h-4.5ZM502.5 66.3h4.5V93.9h-4.5ZM518.7 83.8h4.5V88.1h-4.5ZM524.1 69.3h4.5V84.6h-4.5ZM534.9 55.8h4.5V95.1h-4.5ZM556.5 73.3h4.5V74.6h-4.5ZM567.2 37.5h4.5V60.1h-4.5ZM588.9 58.8h4.5V63.8h-4.5ZM599.7 57.1h4.5V66.3h-4.5ZM605.1 50.5h4.5V56.8h-4.5ZM626.7 53h4.5V70.8h-4.5ZM632.1 49.5h4.5V53.8h-4.5ZM642.9 73.3h4.5V79.3h-4.5ZM653.7 65.8h4.5V82.6h-4.5ZM664.5 69.4h4.5V76.4h-4.5ZM675.2 80.9h4.5V82.1h-4.5ZM686.1 48.8h4.5V81.4h-4.5ZM691.5 7h4.5V40.1h-4.5ZM696.9 6.3h4.5V7.5h-4.5ZM707.7 22h4.5V25.5h-4.5ZM723.9 45.1h4.5V56.3h-4.5ZM740.1 68.9h4.5V70.1h-4.5ZM745.5 59.3h4.5V60.6h-4.5ZM750.9 41.8h4.5V59.3h-4.5ZM777.9 93.9h4.5V98.9h-4.5ZM794.1 129.7h4.5V130.9h-4.5ZM815.7 148.5h4.5V152.7h-4.5ZM821.1 132.2h4.5V147h-4.5ZM837.2 123.9h4.5V133.5h-4.5ZM848.1 140.2h4.5V144.5h-4.5ZM858.9 138.5h4.5V155.2h-4.5ZM869.7 144h4.5V147.7h-4.5ZM880.5 124.7h4.5V145.2h-4.5ZM891.3 113.9h4.5V122.7h-4.5ZM902.1 128.9h4.5V132.7h-4.5ZM907.5 126.4h4.5V128.4h-4.5ZM934.5 149h4.5V150.7h-4.5ZM950.7 159.4h4.5V168.2h-4.5ZM966.9 199h4.5V200.7h-4.5ZM977.7 208.2h4.5V212.7h-4.5ZM983.1 189.7h4.5V208.5h-4.5ZM999.3 208.2h4.5V210.2h-4.5ZM1004.7 182.7h4.5V209.5h-4.5ZM1015.5 204.5h4.5V205.7h-4.5ZM1026.2 209.7h4.5V212.7h-4.5ZM1031.7 208.5h4.5V209.7h-4.5ZM1037.1 188.4h4.5V208.2h-4.5ZM1053.2 188.2h4.5V199h-4.5ZM1064.1 172.7h4.5V188.4h-4.5ZM1074.9 181.9h4.5V190.2h-4.5ZM1085.7 172.2h4.5V187.2h-4.5ZM1091.1 168.9h4.5V170.2h-4.5ZM1118.1 175.7h4.5V188.9h-4.5ZM1123.5 167.2h4.5V171.9h-4.5ZM1134.2 153.1h4.5V162.7h-4.5ZM1139.7 141.4h4.5V152.6h-4.5ZM1145.1 131.4h4.5V137.6h-4.5ZM1155.9 131.4h4.5V137.6h-4.5ZM1161.2 113.1h4.5V130.6h-4.5ZM1166.7 109.6h4.5V110.8h-4.5ZM1177.5 103.1h4.5V108.1h-4.5ZM1182.9 72h4.5V102.6h-4.5ZM1193.7 56.7h4.5V59.8h-4.5ZM1209.9 64.8h4.5V72.9h-4.5ZM1215.2 61h4.5V65.6h-4.5ZM1231.5 58.5h4.5V78.1h-4.5ZM1247.7 57.9h4.5V59.8h-4.5ZM1258.5 56h4.5V62.9h-4.5ZM1269.2 27.1h4.5V59.8h-4.5Z" fill="#089981"/>
<path d="M0.2 207.6h4.5V212.6h-4.5ZM5.7 215.9h4.5V241.9h-4.5ZM16.5 236.9h4.5V239.4h-4.5ZM38.1 224.1h4.5V236.2h-4.5ZM43.5 235.2h4.5V241.7h-4.5ZM59.7 221.6h4.5V223.6h-4.5ZM65.1 221.6h4.5V227.1h-4.5ZM75.9 220.6h4.5V223.9h-4.5ZM81.2 219.4h4.5V237.7h-4.5ZM86.7 237.2h4.5V249.7h-4.5ZM97.5 250.9h4.5V265.5h-4.5ZM102.9 264.5h4.5V287.7h-4.5ZM108.2 283.5h4.5V315h-4.5ZM113.7 314.3h4.5V337.6h-4.5ZM119.1 338.1h4.5V344.3h-4.5ZM124.5 343.8h4.5V356.3h-4.5ZM129.9 355.6h4.5V381.9h-4.5ZM140.7 376.9h4.5V385.9h-4.5ZM146.1 383.1h4.5V400.2h-4.5ZM156.9 385.1h4.5V386.1h-4.5ZM173.1 328.1h4.5V371.4h-4.5ZM189.2 374.4h4.5V378.9h-4.5ZM194.7 376.9h4.5V400.2h-4.5ZM200.1 397.7h4.5V419.7h-4.5ZM205.5 418.4h4.5V421.9h-4.5ZM210.9 419.7h4.5V433.2h-4.5ZM237.9 342.6h4.5V360.6h-4.5ZM270.2 228.9h4.5V239.7h-4.5ZM275.7 235.2h4.5V240.7h-4.5ZM281.1 236.4h4.5V259.4h-4.5ZM291.9 255.2h4.5V272.2h-4.5ZM302.7 248.2h4.5V272.7h-4.5ZM308.1 271.5h4.5V302.3h-4.5ZM313.5 301.5h4.5V308.8h-4.5ZM351.2 153.2h4.5V169h-4.5ZM372.9 105.9h4.5V120.7h-4.5ZM378.2 110.1h4.5V126.9h-4.5ZM383.7 125.9h4.5V129.7h-4.5ZM399.9 69.3h4.5V81.8h-4.5ZM405.2 80.8h4.5V112.6h-4.5ZM421.5 80.1h4.5V86.9h-4.5ZM426.9 101.4h4.5V112.1h-4.5ZM432.2 110.6h4.5V130.2h-4.5ZM443.1 100.9h4.5V106.9h-4.5ZM453.9 78.1h4.5V80.8h-4.5ZM459.3 80.1h4.5V88.9h-4.5ZM464.7 90.9h4.5V98.4h-4.5ZM470.1 98.1h4.5V110.6h-4.5ZM486.3 95.1h4.5V105.6h-4.5ZM507.9 53.8h4.5V78.1h-4.5ZM513.2 77.1h4.5V88.1h-4.5ZM529.5 69.3h4.5V90.9h-4.5ZM540.2 54.3h4.5V67.1h-4.5ZM545.7 60.8h4.5V88.9h-4.5ZM551.1 87.6h4.5V102.1h-4.5ZM561.9 62.1h4.5V66.8h-4.5ZM572.7 26.3h4.5V49.5h-4.5ZM578.1 47h4.5V52.5h-4.5ZM583.5 49.5h4.5V63.8h-4.5ZM594.2 55.1h4.5V67.1h-4.5ZM610.5 47h4.5V68.1h-4.5ZM615.9 61.3h4.5V65.8h-4.5ZM621.2 65.1h4.5V71.8h-4.5ZM637.5 51.8h4.5V80.6h-4.5ZM648.2 69.3h4.5V82.6h-4.5ZM659.1 65.1h4.5V72.6h-4.5ZM669.9 67.6h4.5V81.4h-4.5ZM680.7 80.1h4.5V84.6h-4.5ZM702.2 6.3h4.5V25h-4.5ZM713.1 26.8h4.5V41.8h-4.5ZM718.5 50.1h4.5V70.6h-4.5ZM729.2 48.1h4.5V57.6h-4.5ZM734.7 52.6h4.5V65.6h-4.5ZM756.2 54.6h4.5V57.6h-4.5ZM761.7 55.1h4.5V72.6h-4.5ZM767.1 71.4h4.5V91.4h-4.5ZM772.5 91.9h4.5V103.2h-4.5ZM783.2 93.9h4.5V130.2h-4.5ZM788.7 123.9h4.5V130.7h-4.5ZM799.5 131.4h4.5V140.2h-4.5ZM804.9 134h4.5V157.2h-4.5ZM810.2 153.5h4.5V154.7h-4.5ZM826.5 125.7h4.5V128.2h-4.5ZM831.9 130.2h4.5V137h-4.5ZM842.7 134h4.5V144.7h-4.5ZM853.5 140.2h4.5V156.5h-4.5ZM864.2 136h4.5V145.7h-4.5ZM875.1 142h4.5V149.7h-4.5ZM885.9 117.7h4.5V123.9h-4.5ZM896.7 115.2h4.5V129.4h-4.5ZM912.9 125.2h4.5V128.9h-4.5ZM918.3 126.4h4.5V139.7h-4.5ZM923.7 138.5h4.5V156.5h-4.5ZM929.1 151h4.5V153.5h-4.5ZM939.9 148.9h4.5V153.9h-4.5ZM945.3 153.9h4.5V168.2h-4.5ZM956.1 161.9h4.5V168.2h-4.5ZM961.5 167.2h4.5V200.2h-4.5ZM972.3 201.5h4.5V217.7h-4.5ZM988.5 191.9h4.5V206h-4.5ZM993.9 206h4.5V210.7h-4.5ZM1010.1 182.7h4.5V202h-4.5ZM1020.9 200.7h4.5V205.7h-4.5ZM1042.5 183.2h4.5V190.2h-4.5ZM1047.9 189.7h4.5V200.2h-4.5ZM1058.7 187.7h4.5V191.9h-4.5ZM1069.5 171.4h4.5V190.9h-4.5ZM1080.2 178.2h4.5V184.7h-4.5ZM1096.5 168.2h4.5V176.9h-4.5ZM1101.9 176.4h4.5V178.2h-4.5ZM1107.2 172.7h4.5V188.9h-4.5ZM1112.7 186.4h4.5V188.4h-4.5ZM1128.9 162.2h4.5V167.2h-4.5ZM1150.5 131.9h4.5V136.9h-4.5ZM1172.1 110.1h4.5V117.1h-4.5ZM1188.2 56.7h4.5V63.8h-4.5ZM1199.1 56.7h4.5V57.9h-4.5ZM1204.5 52.9h4.5V72.9h-4.5ZM1220.7 58.5h4.5V73.7h-4.5ZM1226.1 71h4.5V78.5h-4.5ZM1236.9 53.8h4.5V57.9h-4.5ZM1242.2 56h4.5V59.2h-4.5ZM1253.1 53.8h4.5V62h-4.5ZM1263.9 57.9h4.5V59.8h-4.5ZM1274.7 27.1h4.5V38.9h-4.5ZM1280.1 48h4.5V59.8h-4.5Z" fill="#f23645"/>
</g>
<text x="415.6" y="163.9" font-size="14" font-weight="700" fill="#2962ff" textLength="44" lengthAdjust="spacingAndGlyphs">EMA20</text>
<text x="415.6" y="227.8" font-size="14" font-weight="700" fill="#ff9800" textLength="44" lengthAdjust="spacingAndGlyphs">EMA50</text>
<text x="415.6" y="329.2" font-size="14" font-weight="700" fill="#131722" textLength="52.6" lengthAdjust="spacingAndGlyphs">EMA200</text>
<text x="1042.3" y="242" font-size="14" font-weight="700" fill="#131722" textLength="90" lengthAdjust="spacingAndGlyphs">Parabolic SAR</text>
<path d="M91.8 463h15.4v12.3l-7.7 4.4-7.7-4.4z" fill="#fff" stroke="#f23645" stroke-width="1.8" stroke-linejoin="round"/>
<text x="99.5" y="475.8" font-size="10.5" fill="#f23645" stroke="#f23645" stroke-width="0.3" text-anchor="middle" textLength="6" lengthAdjust="spacingAndGlyphs">E</text>
<path d="M415.8 463h15.4v12.3l-7.7 4.4-7.7-4.4z" fill="#fff" stroke="#f23645" stroke-width="1.8" stroke-linejoin="round"/>
<text x="423.5" y="475.8" font-size="10.5" fill="#f23645" stroke="#f23645" stroke-width="0.3" text-anchor="middle" textLength="6" lengthAdjust="spacingAndGlyphs">E</text>
<path d="M761.5 463h15.4v12.3l-7.7 4.4-7.7-4.4z" fill="#fff" stroke="#f23645" stroke-width="1.8" stroke-linejoin="round"/>
<text x="769.2" y="475.8" font-size="10.5" fill="#f23645" stroke="#f23645" stroke-width="0.3" text-anchor="middle" textLength="6" lengthAdjust="spacingAndGlyphs">E</text>
<circle cx="666.4" cy="471.6" r="8.5" fill="#fff" stroke="#2962ff" stroke-width="1.8"/>
<text x="666.3" y="475.6" font-size="10.5" fill="#2962ff" stroke="#2962ff" stroke-width="0.3" text-anchor="middle">D</text>
<path d="M1284.7 462.7a9 9 0 0 1 0 17.5" fill="none" stroke="#9c27b0" stroke-width="1.3"/>
<rect x="1269" y="463.8" width="16" height="15.6" rx="2" fill="#fff" stroke="#4a4e59" stroke-width="1.8"/>
<text x="1277" y="475.6" font-size="10.5" fill="#4a4e59" text-anchor="middle">E</text>
<rect x="0" y="483" width="1364" height="1.1" fill="#e0e3eb"/>
<g clip-path="url(#cd)">
<path d="M75.9 626.2h4.4V627.5h-4.4ZM173.1 626.2h4.4V627.5h-4.4ZM183.9 625h4.4V627.5h-4.4ZM189.3 623.5h4.4V627.5h-4.4ZM221.7 624.5h4.4V627.5h-4.4ZM227.1 620h4.4V627.5h-4.4ZM232.5 612h4.4V627.5h-4.4ZM237.9 609.2h4.4V627.5h-4.4ZM243.3 604.5h4.4V627.5h-4.4ZM248.7 600h4.4V627.5h-4.4ZM254.1 595.5h4.4V627.5h-4.4ZM259.5 591.7h4.4V627.5h-4.4ZM264.9 585.7h4.4V627.5h-4.4ZM270.3 584.9h4.4V627.5h-4.4ZM324.3 623.5h4.4V627.5h-4.4ZM329.7 618.2h4.4V627.5h-4.4ZM335.1 612h4.4V627.5h-4.4ZM340.5 608.2h4.4V627.5h-4.4ZM345.9 603h4.4V627.5h-4.4ZM362.1 605.7h4.4V627.5h-4.4ZM367.5 602h4.4V627.5h-4.4ZM394.5 609h4.4V627.5h-4.4ZM567.3 626.2h4.4V627.5h-4.4ZM572.7 624.5h4.4V627.5h-4.4ZM691.5 619.2h4.4V627.5h-4.4ZM696.9 611.2h4.4V627.5h-4.4ZM702.3 611.2h4.4V627.5h-4.4ZM848.1 626.7h4.4V627.5h-4.4ZM858.9 625.5h4.4V627.5h-4.4ZM864.3 625h4.4V627.5h-4.4ZM869.7 623.7h4.4V627.5h-4.4ZM875.1 623.7h4.4V627.5h-4.4ZM880.5 619.2h4.4V627.5h-4.4ZM885.9 616.7h4.4V627.5h-4.4ZM891.3 613h4.4V627.5h-4.4ZM1010.1 626.2h4.4V627.5h-4.4ZM1015.5 626.2h4.4V627.5h-4.4ZM1020.9 625.5h4.4V627.5h-4.4ZM1026.3 625.5h4.4V627.5h-4.4ZM1031.7 624.5h4.4V627.5h-4.4ZM1037.1 621.2h4.4V627.5h-4.4ZM1042.5 618.7h4.4V627.5h-4.4ZM1053.3 618h4.4V627.5h-4.4ZM1058.7 617h4.4V627.5h-4.4ZM1064.1 614.5h4.4V627.5h-4.4ZM1074.9 615.5h4.4V627.5h-4.4ZM1085.7 615.5h4.4V627.5h-4.4ZM1091.1 614.5h4.4V627.5h-4.4ZM1118.1 622h4.4V627.5h-4.4ZM1123.5 621.2h4.4V627.5h-4.4ZM1128.9 620h4.4V627.5h-4.4ZM1134.3 617.5h4.4V627.5h-4.4ZM1139.7 615.7h4.4V627.5h-4.4ZM1145.1 613h4.4V627.5h-4.4ZM1150.5 613h4.4V627.5h-4.4ZM1161.3 610h4.4V627.5h-4.4ZM1166.7 610h4.4V627.5h-4.4ZM1177.5 611.2h4.4V627.5h-4.4ZM1182.9 606.7h4.4V627.5h-4.4ZM1188.3 604.2h4.4V627.5h-4.4ZM1193.7 603h4.4V627.5h-4.4Z" fill="#26a69a"/>
<path d="M194.7 623.7h4.4V627.5h-4.4ZM200.1 626.5h4.4V627.5h-4.4ZM205.5 626.5h4.4V627.5h-4.4ZM275.7 587.5h4.4V627.5h-4.4ZM281.1 593h4.4V627.5h-4.4ZM286.5 598.2h4.4V627.5h-4.4ZM291.9 605.7h4.4V627.5h-4.4ZM297.3 609.2h4.4V627.5h-4.4ZM302.7 614.5h4.4V627.5h-4.4ZM308.1 622.5h4.4V627.5h-4.4ZM351.3 604.2h4.4V627.5h-4.4ZM356.7 605.7h4.4V627.5h-4.4ZM372.9 603h4.4V627.5h-4.4ZM378.3 606.7h4.4V627.5h-4.4ZM383.7 611.2h4.4V627.5h-4.4ZM389.1 612h4.4V627.5h-4.4ZM399.9 610h4.4V627.5h-4.4ZM405.3 617.2h4.4V627.5h-4.4ZM410.7 620.2h4.4V627.5h-4.4ZM416.1 621.2h4.4V627.5h-4.4ZM421.5 623.7h4.4V627.5h-4.4ZM578.1 624.5h4.4V627.5h-4.4ZM707.7 612.5h4.4V627.5h-4.4ZM713.1 617.5h4.4V627.5h-4.4ZM718.5 626.2h4.4V627.5h-4.4ZM896.7 613.7h4.4V627.5h-4.4ZM902.1 615h4.4V627.5h-4.4ZM907.5 615.7h4.4V627.5h-4.4ZM912.9 616.7h4.4V627.5h-4.4ZM918.3 619.2h4.4V627.5h-4.4ZM923.7 624.2h4.4V627.5h-4.4ZM929.1 626.2h4.4V627.5h-4.4ZM934.5 626.7h4.4V627.5h-4.4ZM1047.9 619.2h4.4V627.5h-4.4ZM1069.5 615.5h4.4V627.5h-4.4ZM1080.3 616.7h4.4V627.5h-4.4ZM1096.5 615.5h4.4V627.5h-4.4ZM1101.9 617h4.4V627.5h-4.4ZM1107.3 620h4.4V627.5h-4.4ZM1112.7 623h4.4V627.5h-4.4ZM1155.9 613.2h4.4V627.5h-4.4ZM1172.1 611.2h4.4V627.5h-4.4ZM1199.1 603.7h4.4V627.5h-4.4ZM1204.5 608h4.4V627.5h-4.4ZM1209.9 612h4.4V627.5h-4.4ZM1215.3 614.5h4.4V627.5h-4.4ZM1220.7 620h4.4V627.5h-4.4ZM1226.1 624.5h4.4V627.5h-4.4ZM1231.5 625.5h4.4V627.5h-4.4ZM1236.9 626.2h4.4V627.5h-4.4Z" fill="#b2dfdb"/>
<path d="M5.7 627.5h4.4V647.5h-4.4ZM11.1 627.5h4.4V647h-4.4ZM81.3 627.5h4.4V628.8h-4.4ZM86.7 627.5h4.4V631.3h-4.4ZM92.1 627.5h4.4V632.5h-4.4ZM97.5 627.5h4.4V633.8h-4.4ZM102.9 627.5h4.4V637.5h-4.4ZM108.3 627.5h4.4V643.8h-4.4ZM113.7 627.5h4.4V648h-4.4ZM119.1 627.5h4.4V651.3h-4.4ZM124.5 627.5h4.4V653h-4.4ZM129.9 627.5h4.4V654.5h-4.4ZM178.5 627.5h4.4V628.5h-4.4ZM210.9 627.5h4.4V628.5h-4.4ZM216.3 627.5h4.4V628.5h-4.4ZM313.5 627.5h4.4V629.5h-4.4ZM426.9 627.5h4.4V631.8h-4.4ZM432.3 627.5h4.4V640.5h-4.4ZM437.7 627.5h4.4V641.8h-4.4ZM443.1 627.5h4.4V643.3h-4.4ZM459.3 627.5h4.4V638h-4.4ZM464.7 627.5h4.4V640.5h-4.4ZM470.1 627.5h4.4V643.3h-4.4ZM475.5 627.5h4.4V644.3h-4.4ZM486.3 627.5h4.4V644.3h-4.4ZM513.3 627.5h4.4V635h-4.4ZM518.7 627.5h4.4V636.3h-4.4ZM529.5 627.5h4.4V635h-4.4ZM545.7 627.5h4.4V634.3h-4.4ZM551.1 627.5h4.4V638.8h-4.4ZM583.5 627.5h4.4V628.3h-4.4ZM588.9 627.5h4.4V628.8h-4.4ZM594.3 627.5h4.4V631.8h-4.4ZM610.5 627.5h4.4V633.3h-4.4ZM615.9 627.5h4.4V634.3h-4.4ZM621.3 627.5h4.4V636.3h-4.4ZM637.5 627.5h4.4V637h-4.4ZM642.9 627.5h4.4V638h-4.4ZM648.3 627.5h4.4V640h-4.4ZM669.9 627.5h4.4V638h-4.4ZM675.3 627.5h4.4V638h-4.4ZM680.7 627.5h4.4V638h-4.4ZM723.9 627.5h4.4V628.3h-4.4ZM729.3 627.5h4.4V631.8h-4.4ZM734.7 627.5h4.4V635h-4.4ZM740.1 627.5h4.4V638h-4.4ZM756.3 627.5h4.4V634.3h-4.4ZM761.7 627.5h4.4V636.8h-4.4ZM767.1 627.5h4.4V641.8h-4.4ZM772.5 627.5h4.4V645.8h-4.4ZM777.9 627.5h4.4V645.8h-4.4ZM783.3 627.5h4.4V651.3h-4.4ZM788.7 627.5h4.4V653.3h-4.4ZM799.5 627.5h4.4V653.3h-4.4ZM804.9 627.5h4.4V654.3h-4.4ZM853.5 627.5h4.4V628.8h-4.4ZM939.9 627.5h4.4V628.3h-4.4ZM945.3 627.5h4.4V630.8h-4.4ZM956.1 627.5h4.4V631.8h-4.4ZM961.5 627.5h4.4V635.8h-4.4ZM966.9 627.5h4.4V638.8h-4.4ZM972.3 627.5h4.4V641.8h-4.4ZM1242.3 627.5h4.4V628.3h-4.4ZM1247.7 627.5h4.4V630h-4.4ZM1253.1 627.5h4.4V631.8h-4.4ZM1258.5 627.5h4.4V633h-4.4ZM1263.9 627.5h4.4V633.8h-4.4ZM1280.1 627.5h4.4V632.5h-4.4Z" fill="#ff5252"/>
<path d="M0.3 627.5h4.4V643.5h-4.4ZM16.5 627.5h4.4V646.3h-4.4ZM21.9 627.5h4.4V645.5h-4.4ZM27.3 627.5h4.4V645h-4.4ZM32.7 627.5h4.4V641.3h-4.4ZM38.1 627.5h4.4V639.5h-4.4ZM43.5 627.5h4.4V638h-4.4ZM48.9 627.5h4.4V635h-4.4ZM54.3 627.5h4.4V631.3h-4.4ZM59.7 627.5h4.4V630h-4.4ZM65.1 627.5h4.4V630h-4.4ZM70.5 627.5h4.4V629.3h-4.4ZM135.3 627.5h4.4V652.5h-4.4ZM140.7 627.5h4.4V652h-4.4ZM146.1 627.5h4.4V651.3h-4.4ZM151.5 627.5h4.4V647.5h-4.4ZM156.9 627.5h4.4V643h-4.4ZM162.3 627.5h4.4V638.3h-4.4ZM167.7 627.5h4.4V629.3h-4.4ZM318.9 627.5h4.4V629h-4.4ZM448.5 627.5h4.4V640.5h-4.4ZM453.9 627.5h4.4V637.5h-4.4ZM480.9 627.5h4.4V643.3h-4.4ZM491.7 627.5h4.4V643.3h-4.4ZM497.1 627.5h4.4V642.5h-4.4ZM502.5 627.5h4.4V636.3h-4.4ZM507.9 627.5h4.4V634.3h-4.4ZM524.1 627.5h4.4V633.3h-4.4ZM534.9 627.5h4.4V630.8h-4.4ZM540.3 627.5h4.4V630.8h-4.4ZM556.5 627.5h4.4V637.5h-4.4ZM561.9 627.5h4.4V634.3h-4.4ZM599.7 627.5h4.4V631.3h-4.4ZM605.1 627.5h4.4V630.8h-4.4ZM626.7 627.5h4.4V634.3h-4.4ZM632.1 627.5h4.4V632.5h-4.4ZM653.7 627.5h4.4V638h-4.4ZM659.1 627.5h4.4V637.5h-4.4ZM664.5 627.5h4.4V636.8h-4.4ZM686.1 627.5h4.4V631.8h-4.4ZM745.5 627.5h4.4V637.5h-4.4ZM750.9 627.5h4.4V634.3h-4.4ZM794.1 627.5h4.4V653.3h-4.4ZM810.3 627.5h4.4V653.3h-4.4ZM815.7 627.5h4.4V649.5h-4.4ZM821.1 627.5h4.4V642.5h-4.4ZM826.5 627.5h4.4V636.8h-4.4ZM831.9 627.5h4.4V634.3h-4.4ZM837.3 627.5h4.4V629.5h-4.4ZM842.7 627.5h4.4V628.3h-4.4ZM950.7 627.5h4.4V630.5h-4.4ZM977.7 627.5h4.4V640.8h-4.4ZM983.1 627.5h4.4V636.8h-4.4ZM988.5 627.5h4.4V635.8h-4.4ZM993.9 627.5h4.4V635h-4.4ZM999.3 627.5h4.4V633.3h-4.4ZM1004.7 627.5h4.4V628.3h-4.4ZM1269.3 627.5h4.4V628.3h-4.4ZM1274.7 627.5h4.4V628h-4.4Z" fill="#ffcdd2"/>
<path d="M0 607.3C1.5 609.3 4.5 613.9 7.5 617.4C10.5 620.9 11 621.6 15 624.9C19 628.1 23 631.8 27.5 633.6C32 635.5 33 633.4 37.6 634.1C42.1 634.9 45.1 637.4 50.1 637.4C55.1 637.4 57.6 635.3 62.6 634.1C67.6 633 70.6 631.6 75.1 631.6C79.6 631.6 81.1 632.7 85.1 634.1C89.1 635.5 91.6 636.2 95.1 638.6C98.6 641 99.6 642.1 102.7 646.2C105.7 650.2 107.2 653.7 110.2 658.7C113.2 663.7 114.7 666.2 117.7 671.2C120.7 676.2 121.7 678.7 125.2 683.7C128.7 688.7 131.2 692 135.2 696.2C139.2 700.5 142.2 702.7 145.2 705C148.2 707.2 148.2 706.7 150.2 707.5C152.2 708.2 152.7 708.7 155.2 708.7C157.7 708.7 160.2 709.5 162.7 707.5C165.2 705.5 165.7 701.1 167.8 698.7C169.8 696.3 170.3 696 172.8 695.5C175.3 695 177.8 696.6 180.3 696.2C182.8 695.9 183 694.9 185.3 693.7C187.5 692.6 189 691.1 191.5 690.5C194 689.9 195 690.3 197.8 690.7C200.6 691.1 201.8 691.8 205.3 692.5C208.8 693.2 211.8 694.5 215.3 694.2C218.8 694 219.8 693.8 222.8 691.2C225.8 688.6 227.3 686.2 230.3 681.2C233.4 676.2 234.9 672.2 237.9 666.2C240.9 660.2 242.4 657.7 245.4 651.2C248.4 644.6 249.9 641.1 252.9 633.6C255.9 626.1 257.4 621.4 260.4 613.6C263.4 605.8 264.9 600.6 267.9 594.8C270.9 589.1 271.4 588.1 275.4 584.8C279.4 581.6 283.9 579.6 287.9 578.5C291.9 577.5 292.4 579.6 295.4 579.8C298.4 580.1 299.9 578.3 303 579.8C306 581.3 307.7 584.1 310.5 587.3C313.2 590.6 314.5 594.3 316.7 596.1C319 597.8 319.5 597.8 321.7 596.1C324 594.3 326.3 589.8 328 587.3C329.6 584.8 328.1 587.1 330 583.6C331.9 580.2 334 576.1 337.5 569.9C341 563.6 344 557.3 347.5 552.3C351 547.4 352 548.1 355 545.3C358 542.6 359.8 541.9 362.5 538.6C365.3 535.2 366.3 531.7 368.8 528.6C371.3 525.5 372.8 524.5 375.1 523.1C377.3 521.7 378.1 521.7 380.1 521.6C382.1 521.4 382.8 522.8 385.1 522.3C387.3 521.8 389.1 521.1 391.3 519C393.6 517 394.3 514.4 396.3 512.3C398.4 510.2 399.4 508.4 401.4 508.5C403.4 508.7 404.1 511.8 406.4 513C408.6 514.3 410.4 514.5 412.6 514.8C414.9 515 415.4 513.8 417.6 514.3C419.9 514.8 421.6 514.7 423.9 517.3C426.1 519.9 426.9 523.8 428.9 527.3C430.9 530.8 431.7 531.8 433.9 534.8C436.2 537.8 437.9 540.2 440.2 542.3C442.4 544.4 442.2 544.6 445.2 545.3C448.2 546.1 452.2 545.4 455.2 546.1C458.2 546.7 457.9 547.1 460.2 548.6C462.4 550.1 464 551.1 466.5 553.6C469 556.1 470.5 558.6 472.7 561.1C475 563.6 475.7 564.6 477.7 566.1C479.7 567.6 480.7 567.1 482.7 568.6C484.7 570.1 485.7 572 487.7 573.6C489.7 575.3 490.5 575.7 492.7 576.9C495 578 496.5 579.7 499 579.4C501.5 579.1 503.3 576.1 505.3 575.4C507.3 574.6 507 575 509 575.6C511 576.3 513 577.6 515.3 578.6C517.5 579.6 518.3 580.5 520.3 580.6C522.3 580.8 523 578.8 525.3 579.4C527.5 580 529.3 583.5 531.6 583.6C533.8 583.7 534.6 580.6 536.6 579.9C538.6 579.1 539.3 578.6 541.6 579.9C543.8 581.1 545.3 583.6 547.8 586.2C550.3 588.7 551.8 591.1 554.1 592.4C556.3 593.8 557.1 593.2 559.1 592.9C561.1 592.7 561.8 593 564.1 591.2C566.4 589.3 567.9 585.5 570.4 583.6C572.9 581.7 574.6 582 576.6 581.6C578.6 581.2 578.1 581 580.4 581.6C582.6 582.3 584.6 583.3 587.9 584.9C591.1 586.5 593.1 588.4 596.6 589.4C600.2 590.4 602.2 588.8 605.4 589.9C608.7 591 609.4 592.8 612.9 594.9C616.4 597.1 618.9 599.8 622.9 600.7C626.9 601.5 629.4 598.1 633 599.2C636.5 600.3 637 603.1 640.5 606.2C644 609.2 647 612.6 650.5 614.4C654 616.3 656.1 615 658 615.4C659.9 615.9 658.6 616.3 660 616.9C661.4 617.4 662.5 617 665 618.1C667.5 619.2 669 620.6 672.5 622.4C676 624.1 679.5 627.1 682.5 626.9C685.5 626.6 685.5 624.8 687.5 621.1C689.5 617.5 690.5 613.4 692.5 608.6C694.6 603.8 695.3 600.7 697.6 597.3C699.8 594 701.6 593.6 703.8 591.8C706.1 590.1 706.8 588.7 708.8 588.6C710.8 588.4 711.6 588.8 713.8 591.1C716.1 593.3 717.3 597.1 720.1 599.8C722.8 602.6 724.6 602.5 727.6 604.8C730.6 607.2 732.4 609.2 735.1 611.6C737.9 614 739.1 615.5 741.4 616.9C743.6 618.3 744.1 618.8 746.4 618.6C748.6 618.5 750.1 616.1 752.6 616.1C755.1 616.1 756.4 616.9 758.9 618.6C761.4 620.4 762.4 621.1 765.2 624.9C767.9 628.6 769.7 633.1 772.7 637.4C775.7 641.6 777.7 642.6 780.2 646.2C782.7 649.7 782.9 651.2 785.2 654.9C787.4 658.7 788.9 661.4 791.4 664.9C794 668.4 795 668.9 797.7 672.4C800.5 675.9 802.5 679.2 805.2 682.5C808 685.7 809.1 687 811.5 688.7C813.9 690.5 815 691.1 817.2 691.2C819.5 691.3 820.4 690.3 822.7 689.2C825.1 688.1 826.8 686.8 829 685.7C831.3 684.6 832 685 834 683.7C836 682.4 836.5 680.2 839 679.2C841.5 678.2 843.3 678.7 846.5 678.7C849.8 678.7 852 679.9 855.3 679.2C858.5 678.5 859.8 676.7 862.8 675.4C865.8 674.2 867.6 673.8 870.3 672.9C873.1 672.1 874.1 672.8 876.6 671.2C879.1 669.6 880.6 667.4 882.8 664.9C885.1 662.4 885.6 661.1 887.8 658.7C890.1 656.3 891.6 654.6 894.1 652.9C896.6 651.3 897.9 651.5 900.4 650.4C902.9 649.3 904.1 648.5 906.6 647.4C909.1 646.3 910.4 645.5 912.9 644.9C915.4 644.3 916.6 643.7 919.1 644.4C921.6 645 922.9 647 925.4 648.2C927.9 649.4 928.4 649.8 931.7 650.4C934.9 651 938.4 650.2 941.7 651.2C944.9 652.2 944.9 654.2 947.9 655.4C950.9 656.7 953.7 655.8 956.7 657.4C959.7 659.1 960.3 660.9 963 663.7C965.6 666.5 967.6 668.9 970 671.5C972.4 674 973 674.9 975 676.5C977 678.1 978 679.2 980 679.5C982 679.7 982.5 677.8 985 677.7C987.5 677.6 989.5 678.6 992.5 679C995.5 679.3 997 680.5 1000 679.5C1003 678.5 1003.6 675.7 1007.6 674C1011.6 672.3 1015.1 672 1020.1 671C1025.1 670 1028.1 671.1 1032.6 669C1037.1 666.8 1039.1 662.4 1042.6 660.2C1046.1 657.9 1046.6 659.4 1050.1 657.7C1053.6 655.9 1056.6 653.9 1060.1 651.4C1063.6 648.9 1063.6 647.4 1067.6 645.2C1071.7 642.9 1075.2 642.9 1080.2 640.2C1085.2 637.4 1088.7 633.7 1092.7 631.4C1096.7 629.1 1097.2 629.4 1100.2 628.9C1103.2 628.4 1104.7 628.5 1107.7 628.9C1110.7 629.2 1112.2 630.9 1115.2 630.7C1118.2 630.4 1119.2 629.4 1122.7 627.6C1126.2 625.9 1129.2 624.6 1132.7 621.9C1136.2 619.1 1137.3 617 1140.3 613.9C1143.3 610.8 1144.3 609.4 1147.8 606.4C1151.3 603.4 1153.5 602.5 1157.8 598.9C1162 595.2 1165 591.3 1169 588.1C1173.1 584.8 1174.6 585.7 1177.8 582.6C1181.1 579.5 1182.3 577.1 1185.3 572.6C1188.3 568.1 1189.8 564.3 1192.8 560C1195.8 555.8 1197.3 553 1200.3 551.3C1203.4 549.5 1204.6 551.5 1207.9 551.3C1211.1 551 1212.6 548.8 1216.6 550C1220.6 551.3 1223.4 555.8 1227.9 557.5C1232.4 559.3 1235.1 558 1239.2 558.8C1243.2 559.5 1244.2 559.9 1247.9 561.3C1251.7 562.7 1254.3 564.3 1257.9 565.8C1261.6 567.3 1263.5 569.2 1266.2 568.8C1268.9 568.4 1269.3 564.7 1271.5 563.8C1273.6 562.9 1274.8 563.2 1277 564.3C1279.2 565.4 1281.4 568.3 1282.5 569.3" fill="none" stroke="#2962ff" stroke-width="1.1" stroke-opacity="0.82" stroke-linejoin="round" stroke-linecap="round"/>
<path d="M0 589.8C2.3 592.6 5.3 596.6 10 601.6C14.7 606.5 15.4 607.1 20 611.1C24.7 615.1 25.4 615.7 30 618.6C34.7 621.5 35.4 621.6 40.1 623.6C44.7 625.7 44.8 625.9 50.1 627.4C55.3 628.8 56.8 629 62.6 629.9C68.4 630.8 69.3 630.5 75.1 631.1C81 631.7 81.8 631.2 87.6 632.4C93.5 633.5 94.9 633.8 100.2 636.1C105.4 638.5 105.5 638.9 110.2 642.4C114.8 645.9 115.5 646.2 120.2 651.2C124.9 656.1 125.5 657.8 130.2 663.7C134.9 669.5 135.5 670.9 140.2 676.2C144.9 681.5 145.6 682.1 150.2 686.2C154.9 690.3 156.2 691.4 160.2 693.7C164.3 696.1 164.2 695.6 167.8 696.2C171.3 696.8 171.2 696.4 175.3 696.2C179.4 696.1 180 696.1 185.3 695.5C190.5 694.9 192 694.2 197.8 693.7C203.6 693.2 205.1 693.3 210.3 693.2C215.6 693.1 215.7 693.7 220.3 693.2C225 692.8 226.3 692.9 230.3 691.2C234.4 689.6 234.4 689.1 237.9 686.2C241.4 683.3 241.9 682.5 245.4 678.7C248.9 674.9 249.4 674.6 252.9 669.9C256.4 665.3 256.9 665.1 260.4 658.7C263.9 652.2 264.4 650 267.9 642.4C271.4 634.8 271.3 633.7 275.4 626.1C279.5 618.5 280.8 616.3 285.4 609.8C290.1 603.4 291.4 602.2 295.4 598.6C299.5 595 298.9 595.6 303 594.3C307 593 308.3 593.1 313 593.1C317.6 593 319 594.2 323 594.1C327 593.9 326 594.6 330 592.4C334 590.3 335.3 589.3 340 584.9C344.7 580.5 345.4 578.7 350 573.6C354.7 568.5 355.4 568.1 360 563.1C364.7 558.1 365.4 557.2 370.1 552.3C374.7 547.5 375.4 546.5 380.1 542.3C384.7 538.1 385.4 538.1 390.1 534.3C394.8 530.5 395.4 529 400.1 526.1C404.8 523.1 406 523.1 410.1 521.6C414.2 520 414.4 520 417.6 519.3C420.8 518.6 421 518 423.9 518.5C426.8 519.1 426.4 519.5 430.2 521.6C433.9 523.6 435.5 524.6 440.2 527.3C444.8 530 445.5 530.6 450.2 533.1C454.9 535.6 455.5 535.3 460.2 538.1C464.9 540.8 465.5 541.5 470.2 544.8C474.9 548.2 475.6 548.8 480.2 552.3C484.9 555.9 485.6 556.6 490.2 559.9C494.9 563.1 495.6 563.9 500.3 566.1C504.9 568.3 505.6 567.8 510.3 569.4C514.9 571 515.6 571.3 520.3 572.9C525 574.5 525 575 530.3 576.1C535.6 577.3 537.6 576.5 542.8 577.9C548.1 579.2 548.2 580.1 552.8 581.9C557.5 583.6 558.8 584.6 562.8 585.4C566.9 586.2 566.3 585.7 570.4 585.4C574.5 585.1 575.7 584.4 580.4 584.1C585 583.9 585.7 583.9 590.4 584.4C595.1 584.9 595.7 585.3 600.4 586.2C605.1 587 605.2 586.7 610.4 588.2C615.7 589.6 617.7 590.8 622.9 592.4C628.2 594 628.3 593.5 633 594.9C637.6 596.4 638.3 596.6 643 598.7C647.6 600.7 649 601.9 653 603.7C657 605.4 656 604.1 660 606.1C664 608.1 665.3 609.8 670 612.3C674.7 614.9 675.9 615.7 680 616.9C684.1 618 684 618.2 687.5 617.4C691 616.5 691.5 615.4 695.1 613.1C698.6 610.8 699.1 609.9 702.6 607.3C706.1 604.8 706.6 603.9 710.1 602.3C713.6 600.8 714.1 601 717.6 600.6C721.1 600.2 721.6 600.2 725.1 600.6C728.6 601 729.1 601.2 732.6 602.3C736.1 603.5 736.6 604.1 740.1 605.6C743.6 607 743.5 607.2 747.6 608.6C751.7 610 753 609.7 757.6 611.6C762.3 613.5 763 613.8 767.7 616.9C772.3 620 773 620.1 777.7 624.9C782.4 629.7 783 631.5 787.7 637.4C792.4 643.2 793 644.4 797.7 649.9C802.4 655.5 803 656.5 807.7 661.2C812.4 665.8 813.1 666.6 817.7 669.9C822.4 673.3 823.1 673.6 827.8 675.4C832.4 677.3 832.5 677.3 837.8 677.9C843 678.6 845 678.2 850.3 678.2C855.5 678.2 855.6 678.3 860.3 677.9C865 677.6 865.6 677.6 870.3 676.7C875 675.8 875.7 675.9 880.3 674.2C885 672.4 885.7 671.8 890.3 669.2C895 666.6 895.7 665.9 900.4 663.2C905 660.4 905.7 659.8 910.4 657.4C915 655 915.7 654.2 920.4 652.9C925.1 651.6 925.7 652.2 930.4 651.9C935.1 651.6 936.3 651.5 940.4 651.7C944.5 651.8 944.1 651.9 947.9 652.4C951.7 652.9 952.6 652.5 956.7 653.7C960.8 654.8 962.4 655.9 965.5 657.4C968.6 658.9 966.6 658.1 970 660.2C973.4 662.3 975.3 664 980 666.5C984.7 668.9 985.4 669.1 990 670.7C994.7 672.3 995.4 672.6 1000 673.2C1004.7 673.8 1005.4 673.3 1010.1 673.2C1014.7 673.1 1014.8 673.1 1020.1 672.7C1025.3 672.3 1027.3 672.5 1032.6 671.5C1037.9 670.5 1037.4 670.5 1042.6 668.5C1047.9 666.4 1049.3 665.8 1055.1 662.7C1061 659.6 1061.8 658.7 1067.6 655.2C1073.5 651.7 1074.3 650.9 1080.2 647.7C1086 644.5 1086.8 644 1092.7 641.4C1098.5 638.8 1099.4 638.3 1105.2 636.4C1111 634.5 1111.9 635 1117.7 633.4C1123.6 631.8 1124.4 632.2 1130.2 629.6C1136.1 627.1 1136.9 626.1 1142.8 622.6C1148.6 619.1 1149.4 618.7 1155.3 614.6C1161.1 610.5 1162 609.4 1167.8 605.1C1173.6 600.8 1175.1 600.7 1180.3 596.3C1185.6 592 1185.7 591.1 1190.3 586.3C1195 581.5 1195.7 580.2 1200.3 575.8C1205 571.4 1205.7 570.8 1210.4 567.6C1215 564.3 1215.7 563.6 1220.4 561.8C1225 560 1225.7 560.6 1230.4 560C1235.1 559.5 1235.7 559.4 1240.4 559.5C1245.1 559.7 1245.7 559.8 1250.4 560.5C1255.1 561.2 1256.3 561.8 1260.4 562.5C1264.5 563.3 1264.4 563.6 1267.9 563.8C1271.5 564 1272.1 563.1 1275.5 563.3C1278.8 563.5 1280.8 564.3 1282.5 564.6" fill="none" stroke="#ff6d00" stroke-width="1.1" stroke-opacity="0.88" stroke-linejoin="round" stroke-linecap="round"/>
<circle cx="218.3" cy="693.2" r="20" fill="rgba(38,166,154,0.42)" stroke="#8f959e" stroke-width="1" stroke-opacity="0.7"/>
<circle cx="423.4" cy="522.3" r="20.6" fill="rgba(239,83,80,0.42)" stroke="#8f959e" stroke-width="1" stroke-opacity="0.7"/>
<circle cx="1017.6" cy="672" r="21.3" fill="rgba(38,166,154,0.42)" stroke="#8f959e" stroke-width="1" stroke-opacity="0.7"/>
</g>
<rect x="1307" y="0" width="57" height="483" fill="#fff"/>
<rect x="1307" y="484.1" width="57" height="244" fill="#fff"/>
<rect x="1364" y="0" width="2" height="728" fill="#e0e3eb"/>
<text x="1314.5" y="27.5" font-size="10.4" fill="#131722">170.0</text>
<text x="1314.5" y="167.9" font-size="10.4" fill="#131722">134.0</text>
<text x="1314.5" y="204.2" font-size="10.4" fill="#131722">126.0</text>
<text x="1314.5" y="240.7" font-size="10.4" fill="#131722">118.5</text>
<text x="1314.5" y="279.3" font-size="10.4" fill="#131722">111.0</text>
<text x="1314.5" y="312.3" font-size="10.4" fill="#131722">105.0</text>
<text x="1314.5" y="346.7" font-size="10.4" fill="#131722">99.00</text>
<text x="1314.5" y="384.3" font-size="10.4" fill="#131722">93.00</text>
<text x="1314.5" y="416.7" font-size="10.4" fill="#131722">88.00</text>
<text x="1314.5" y="444" font-size="10.4" fill="#131722">84.00</text>
<text x="1314.5" y="472.6" font-size="10.4" fill="#131722">80.00</text>
<text x="1314.5" y="504.5" font-size="10.4" fill="#131722">12.00</text>
<text x="1314.5" y="546.8" font-size="10.4" fill="#131722">8.00</text>
<text x="1314.5" y="589" font-size="10.4" fill="#131722">4.00</text>
<text x="1314.5" y="631.2" font-size="10.4" fill="#131722">0.00</text>
<text x="1340.5" y="673.1" font-size="10.4" fill="#131722" text-anchor="end">−4.00</text>
<text x="1340.5" y="715.3" font-size="10.4" fill="#131722" text-anchor="end">−8.00</text>
<rect x="1307" y="52" width="53" height="28" rx="2" fill="#f23645"/>
<text x="1314.5" y="63.8" font-size="10.4" fill="#fff" stroke="#fff" stroke-width="0.3">160.0</text>
<text x="1314.5" y="76.3" font-size="10.4" fill="#fff" stroke="#fff" stroke-width="0.2">07:17:02</text>
<rect x="1307" y="80" width="38" height="18" rx="2" fill="#4caf50"/>
<rect x="1307" y="80" width="38" height="15.4" rx="2" fill="#4caf50"/>
<text x="1314.5" y="91.4" font-size="10.4" fill="#fff" stroke="#fff" stroke-width="0.4">158.2</text>
<rect x="1307" y="95.2" width="38" height="15.5" rx="2" fill="#4caf50"/>
<text x="1314.5" y="106.7" font-size="10.4" fill="#fff" stroke="#fff" stroke-width="0.4">158.1</text>
<rect x="1307" y="110.7" width="38" height="15.1" rx="2" fill="#2962ff"/>
<text x="1314.5" y="122" font-size="10.4" fill="#fff" stroke="#fff" stroke-width="0.4">157.6</text>
<rect x="1307" y="125.8" width="38" height="15" rx="2" fill="#ff9800"/>
<text x="1314.5" y="137" font-size="10.4" fill="#131722" stroke="#131722" stroke-width="0.4">149.0</text>
<rect x="1307" y="140.8" width="38" height="15.2" rx="2" fill="#363a45"/>
<text x="1314.5" y="152.1" font-size="10.4" fill="#fff" stroke="#fff" stroke-width="0.4">137.6</text>
<rect x="1307" y="166.6" width="38" height="15.1" rx="2" fill="#ff5252"/>
<text x="1314.5" y="177.8" font-size="10.4" fill="#fff" stroke="#fff" stroke-width="0.4">131.9</text>
<rect x="1307" y="547" width="38" height="15.2" rx="2" fill="#ff6d00"/>
<text x="1314.5" y="558.3" font-size="10.4" fill="#fff" stroke="#fff" stroke-width="0.4">5.92</text>
<rect x="1307" y="562.2" width="38" height="15.3" rx="2" fill="#2962ff"/>
<text x="1314.5" y="573.6" font-size="10.4" fill="#fff" stroke="#fff" stroke-width="0.4">5.48</text>
<rect x="1307" y="624.4" width="38" height="15.6" rx="2" fill="#ff5252"/>
<text x="1340.5" y="635.9" font-size="10.4" fill="#fff" stroke="#fff" stroke-width="0.3" text-anchor="end">−0.43</text>
<text x="8.8" y="15.4" font-size="12" fill="#131722" stroke="#131722" stroke-width="0.1" textLength="57.5" lengthAdjust="spacingAndGlyphs">Supertrend</text>
<text x="74.1" y="15.4" font-size="12.1" fill="#4caf50" stroke="#4caf50" stroke-width="0.15" textLength="27.6" lengthAdjust="spacingAndGlyphs">158.2</text>
<text x="107.2" y="15.2" font-size="11" fill="#50535e" textLength="8.3" lengthAdjust="spacingAndGlyphs">∅</text>
<text x="121" y="15.4" font-size="12.1" fill="#4caf50" stroke="#4caf50" stroke-width="0.15" textLength="27.3" lengthAdjust="spacingAndGlyphs">158.1</text>
<text x="155.2" y="15.4" font-size="12.1" fill="#2962ff" stroke="#2962ff" stroke-width="0.15" textLength="27.6" lengthAdjust="spacingAndGlyphs">157.6</text>
<text x="189.5" y="15.4" font-size="12.1" fill="#ff9800" stroke="#ff9800" stroke-width="0.15" textLength="27.8" lengthAdjust="spacingAndGlyphs">149.0</text>
<text x="223.6" y="15.4" font-size="12.1" fill="#363a45" stroke="#363a45" stroke-width="0.15" textLength="27.5" lengthAdjust="spacingAndGlyphs">137.6</text>
<rect x="9.5" y="24.8" width="25" height="17.7" rx="3" fill="#fff" stroke="#d1d4dc" stroke-width="1"/>
<path d="M19.3 35l3.2-3.2 3.2 3.2" fill="none" stroke="#131722" stroke-width="1.3"/>
<text x="8.6" y="501.8" font-size="12" fill="#131722" stroke="#131722" stroke-width="0.1" textLength="29" lengthAdjust="spacingAndGlyphs">MACD</text>
<text x="45.1" y="501.8" font-size="12.1" fill="#ff5252" stroke="#ff5252" stroke-width="0.15" textLength="27.7" lengthAdjust="spacingAndGlyphs">−0.43</text>
<text x="79.4" y="501.8" font-size="12.1" fill="#2962ff" stroke="#2962ff" stroke-width="0.15" textLength="21.7" lengthAdjust="spacingAndGlyphs">5.48</text>
<text x="107.4" y="501.8" font-size="12.1" fill="#ff6d00" stroke="#ff6d00" stroke-width="0.15" textLength="22.1" lengthAdjust="spacingAndGlyphs">5.92</text>
<g fill="#131722" stroke="#fff" stroke-width="3" stroke-linejoin="round" paint-order="stroke"><path d="M10.95 702.8H22.4V716.4H15.9V708.7H10.95Z"/><path d="M30.6 702.8H37.3L32.1 716.4H25.4Z"/><circle cx="26.3" cy="705.6" r="2" stroke-width="1.2"/><text x="44.2" y="716.4" font-size="19" font-weight="700" textLength="108.3" lengthAdjust="spacingAndGlyphs">TradingView</text></g>
</svg>
</body></html>
